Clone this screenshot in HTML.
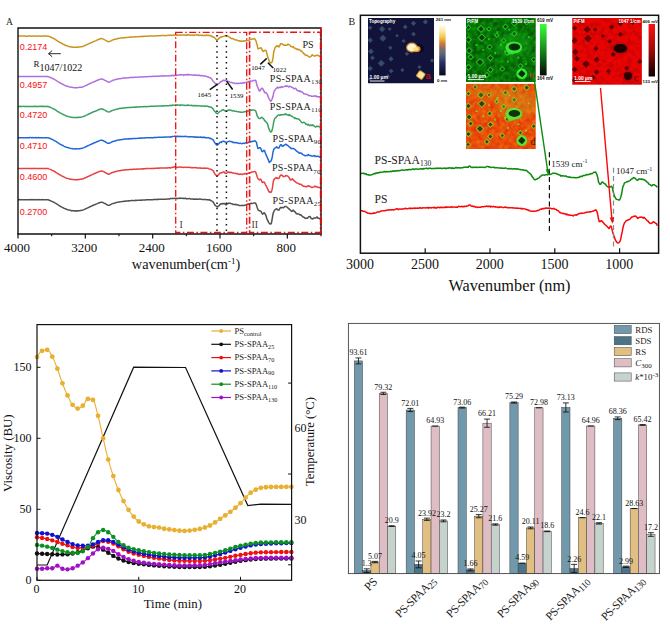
<!DOCTYPE html>
<html lang="en"><head><meta charset="utf-8"><title>Figure</title>
<style>html,body{margin:0;padding:0;background:#fff}svg{display:block}</style></head><body>
<svg width="670" height="624" viewBox="0 0 670 624">
<defs>
<filter id="blur" x="-5%" y="-5%" width="110%" height="110%"><feGaussianBlur stdDeviation="0.75"/></filter>
<filter id="blur3" x="-30%" y="-30%" width="160%" height="160%"><feGaussianBlur stdDeviation="3"/></filter>
<filter id="texb" x="0" y="0" width="100%" height="100%" color-interpolation-filters="sRGB"><feTurbulence type="fractalNoise" baseFrequency="0.22" numOctaves="2" seed="4"/><feColorMatrix type="matrix" values="0 0 0 0 0  1.5 0 0 0 -0.3  0 0 0 0 0  0 0 0 0 1"/></filter>
<filter id="texc" x="0" y="0" width="100%" height="100%" color-interpolation-filters="sRGB"><feTurbulence type="fractalNoise" baseFrequency="0.22" numOctaves="2" seed="7"/><feColorMatrix type="matrix" values="1.2 0 0 0 0.3  0 0 0 0 0  0 0 0 0 0  0 0 0 0 1"/></filter>
<filter id="texd" x="0" y="0" width="100%" height="100%" color-interpolation-filters="sRGB"><feTurbulence type="fractalNoise" baseFrequency="0.22" numOctaves="2" seed="9"/><feColorMatrix type="matrix" values="0.3 0 0 0 0.75  1.2 0 0 0 -0.28  0 0 0 0 0.03  0 0 0 0 1"/></filter>
<linearGradient id="cbA" x1="0" y1="0" x2="0" y2="1"><stop offset="0" stop-color="#fffbe8"/><stop offset="0.12" stop-color="#fbe9a0"/><stop offset="0.25" stop-color="#f2c040"/><stop offset="0.36" stop-color="#d07a38"/><stop offset="0.46" stop-color="#8a6a64"/><stop offset="0.56" stop-color="#5a6a7c"/><stop offset="0.75" stop-color="#283060"/><stop offset="1" stop-color="#08081e"/></linearGradient>
<linearGradient id="cbB" x1="0" y1="0" x2="0" y2="1"><stop offset="0" stop-color="#38ff38"/><stop offset="0.5" stop-color="#1a8a1a"/><stop offset="1" stop-color="#020a02"/></linearGradient>
<linearGradient id="cbC" x1="0" y1="0" x2="0" y2="1"><stop offset="0" stop-color="#ff1010"/><stop offset="0.5" stop-color="#a00808"/><stop offset="1" stop-color="#0a0000"/></linearGradient>
</defs>
<rect width="670" height="624" fill="#fff"/>
<g id="panelA">
<text x="6" y="25" font-family="Liberation Serif, serif" font-size="9.6" fill="#222">A</text>
<path d="M18.00,36.23 L18.75,36.13 L19.50,36.11 L20.25,35.97 L21.00,36.08 L21.75,36.07 L22.50,36.09 L23.25,36.05 L24.00,36.10 L24.75,36.07 L25.50,36.01 L26.25,36.16 L27.00,36.16 L27.75,36.22 L28.50,36.10 L29.25,36.07 L30.00,36.06 L30.75,35.99 L31.50,36.17 L32.25,36.02 L33.00,36.01 L33.75,36.09 L34.50,36.21 L35.25,36.12 L36.00,36.03 L36.75,36.05 L37.50,36.15 L38.25,36.09 L39.00,36.04 L39.75,36.08 L40.50,36.15 L41.25,36.24 L42.00,36.01 L42.75,36.05 L43.50,36.04 L44.25,35.93 L45.00,36.03 L45.75,36.03 L46.50,36.18 L47.25,36.10 L48.00,36.08 L48.75,36.42 L49.50,36.60 L50.25,36.81 L51.00,37.24 L51.75,37.61 L52.50,37.96 L53.25,38.38 L54.00,38.58 L54.75,39.14 L55.50,39.68 L56.25,40.15 L57.00,40.66 L57.75,41.16 L58.50,41.69 L59.25,41.98 L60.00,42.57 L60.75,42.79 L61.50,43.26 L62.25,43.55 L63.00,44.15 L63.75,44.55 L64.50,44.81 L65.25,45.29 L66.00,45.44 L66.75,45.79 L67.50,46.04 L68.25,46.16 L69.00,46.45 L69.75,46.72 L70.50,46.67 L71.25,46.96 L72.00,47.02 L72.75,47.27 L73.50,47.27 L74.25,47.33 L75.00,47.35 L75.75,47.31 L76.50,47.16 L77.25,47.31 L78.00,47.06 L78.75,47.10 L79.50,47.05 L80.25,46.86 L81.00,46.84 L81.75,46.79 L82.50,46.52 L83.25,46.21 L84.00,45.77 L84.75,45.57 L85.50,45.24 L86.25,44.88 L87.00,44.47 L87.75,44.20 L88.50,43.79 L89.25,43.50 L90.00,43.23 L90.75,42.79 L91.50,42.49 L92.25,42.33 L93.00,41.90 L93.75,41.41 L94.50,41.17 L95.25,40.90 L96.00,40.65 L96.75,40.27 L97.50,39.89 L98.25,39.52 L99.00,39.28 L99.75,38.96 L100.50,38.68 L101.25,38.59 L102.00,38.62 L102.75,38.92 L103.50,39.14 L104.25,39.58 L105.00,39.95 L105.75,40.38 L106.50,40.78 L107.25,41.39 L108.00,41.56 L108.75,41.73 L109.50,41.49 L110.25,41.10 L111.00,40.84 L111.75,40.43 L112.50,40.04 L113.25,39.81 L114.00,39.53 L114.75,39.31 L115.50,39.14 L116.25,39.10 L117.00,38.83 L117.75,38.56 L118.50,38.48 L119.25,38.26 L120.00,38.13 L120.75,38.10 L121.50,37.90 L122.25,37.73 L123.00,37.70 L123.75,37.69 L124.50,37.62 L125.25,37.63 L126.00,37.42 L126.75,37.46 L127.50,37.38 L128.25,37.28 L129.00,37.29 L129.75,37.21 L130.50,37.07 L131.25,37.15 L132.00,36.94 L132.75,36.99 L133.50,36.94 L134.25,36.93 L135.00,36.80 L135.75,36.81 L136.50,36.76 L137.25,36.80 L138.00,36.63 L138.75,36.65 L139.50,36.59 L140.25,36.47 L141.00,36.72 L141.75,36.48 L142.50,36.34 L143.25,36.51 L144.00,36.30 L144.75,36.36 L145.50,36.36 L146.25,36.22 L147.00,36.20 L147.75,36.16 L148.50,36.16 L149.25,36.02 L150.00,36.02 L150.75,36.06 L151.50,36.12 L152.25,36.06 L153.00,36.11 L153.75,36.00 L154.50,35.88 L155.25,35.88 L156.00,35.71 L156.75,35.76 L157.50,35.72 L158.25,35.78 L159.00,35.78 L159.75,35.67 L160.50,35.64 L161.25,35.54 L162.00,35.62 L162.75,35.62 L163.50,35.60 L164.25,35.49 L165.00,35.66 L165.75,35.57 L166.50,35.45 L167.25,35.39 L168.00,35.37 L168.75,35.37 L169.50,35.32 L170.25,35.37 L171.00,35.37 L171.75,35.42 L172.50,35.32 L173.25,35.04 L174.00,35.09 L174.75,34.93 L175.50,34.89 L176.25,35.34 L177.00,34.92 L177.75,35.36 L178.50,34.94 L179.25,35.05 L180.00,35.20 L180.75,35.00 L181.50,35.07 L182.25,34.96 L183.00,34.91 L183.75,34.97 L184.50,34.88 L185.25,35.29 L186.00,34.97 L186.75,35.31 L187.50,34.52 L188.25,35.00 L189.00,35.10 L189.75,34.95 L190.50,35.20 L191.25,35.12 L192.00,34.95 L192.75,35.08 L193.50,35.51 L194.25,35.05 L195.00,35.06 L195.75,34.93 L196.50,35.04 L197.25,34.79 L198.00,35.00 L198.75,35.49 L199.50,35.26 L200.25,35.20 L201.00,35.31 L201.75,35.47 L202.50,35.27 L203.25,35.57 L204.00,35.42 L204.75,35.30 L205.50,35.62 L206.25,34.93 L207.00,35.31 L207.75,35.51 L208.50,35.35 L209.25,35.55 L210.00,35.53 L210.75,35.60 L211.50,36.40 L212.25,36.35 L213.00,36.65 L213.75,37.36 L214.50,37.58 L215.25,38.57 L216.00,39.30 L216.75,40.05 L217.50,39.41 L218.25,39.22 L219.00,38.33 L219.75,37.41 L220.50,37.41 L221.25,36.76 L222.00,36.95 L222.75,36.53 L223.50,36.37 L224.25,36.09 L225.00,36.06 L225.75,35.43 L226.50,35.71 L227.25,35.73 L228.00,36.32 L228.75,36.80 L229.50,37.41 L230.25,37.50 L231.00,38.30 L231.75,38.69 L232.50,38.53 L233.25,38.85 L234.00,39.17 L234.75,39.62 L235.50,40.03 L236.25,39.79 L237.00,40.22 L237.75,40.44 L238.50,40.68 L239.25,40.78 L240.00,41.25 L240.75,40.99 L241.50,41.45 L242.25,41.32 L243.00,40.93 L243.75,40.87 L244.50,40.88 L245.25,41.18 L246.00,40.69 L246.75,40.48 L247.50,40.55 L248.25,40.36 L249.00,39.88 L249.75,40.00 L250.50,39.50 L251.25,39.37 L252.00,39.02 L252.75,39.05 L253.50,38.94 L254.25,38.50 L255.00,39.06 L255.75,40.32 L256.50,42.88 L257.25,45.34 L258.00,48.87 L258.75,48.70 L259.50,48.30 L260.25,48.06 L261.00,47.74 L261.75,48.71 L262.50,50.68 L263.25,51.48 L264.00,50.81 L264.75,50.48 L265.50,50.34 L266.25,50.90 L267.00,53.97 L267.75,57.14 L268.50,58.92 L269.25,61.06 L270.00,62.97 L270.75,62.83 L271.50,62.73 L272.25,61.67 L273.00,57.88 L273.75,51.84 L274.50,49.57 L275.25,47.37 L276.00,46.69 L276.75,45.67 L277.50,46.36 L278.25,45.94 L279.00,47.00 L279.75,45.60 L280.50,43.85 L281.25,43.70 L282.00,43.69 L282.75,44.42 L283.50,44.69 L284.25,45.30 L285.00,45.03 L285.75,45.22 L286.50,45.21 L287.25,44.87 L288.00,44.13 L288.75,44.57 L289.50,44.63 L290.25,45.65 L291.00,46.49 L291.75,46.84 L292.50,46.97 L293.25,46.61 L294.00,47.78 L294.75,47.88 L295.50,48.66 L296.25,48.70 L297.00,49.55 L297.75,49.12 L298.50,49.80 L299.25,49.52 L300.00,50.06 L300.75,51.01 L301.50,51.06 L302.25,51.83 L303.00,52.75 L303.75,53.78 L304.50,53.83 L305.25,55.09 L306.00,55.30 L306.75,55.32 L307.50,55.53 L308.25,56.48 L309.00,56.94 L309.75,57.01 L310.50,56.79 L311.25,56.15 L312.00,54.77 L312.75,55.17 L313.50,55.65 L314.25,56.09 L315.00,56.06 L315.75,55.45 L316.50,55.42 L317.25,55.26 L318.00,55.42 L318.75,55.59 L319.50,56.26 L320.25,56.30 L321.00,56.95" fill="none" stroke="#c8961e" stroke-width="1.5" stroke-linejoin="round"/>
<path d="M18.00,76.57 L18.75,76.52 L19.50,76.47 L20.25,76.59 L21.00,76.47 L21.75,76.45 L22.50,76.46 L23.25,76.39 L24.00,76.46 L24.75,76.63 L25.50,76.43 L26.25,76.50 L27.00,76.42 L27.75,76.46 L28.50,76.61 L29.25,76.56 L30.00,76.46 L30.75,76.50 L31.50,76.44 L32.25,76.44 L33.00,76.43 L33.75,76.44 L34.50,76.52 L35.25,76.54 L36.00,76.54 L36.75,76.49 L37.50,76.40 L38.25,76.50 L39.00,76.43 L39.75,76.56 L40.50,76.54 L41.25,76.55 L42.00,76.47 L42.75,76.37 L43.50,76.57 L44.25,76.59 L45.00,76.39 L45.75,76.51 L46.50,76.59 L47.25,76.43 L48.00,76.72 L48.75,76.75 L49.50,76.95 L50.25,77.44 L51.00,77.71 L51.75,78.01 L52.50,78.49 L53.25,78.64 L54.00,79.27 L54.75,79.50 L55.50,80.03 L56.25,80.46 L57.00,81.01 L57.75,81.55 L58.50,81.92 L59.25,82.52 L60.00,82.89 L60.75,83.27 L61.50,83.69 L62.25,84.02 L63.00,84.42 L63.75,84.92 L64.50,85.21 L65.25,85.65 L66.00,85.92 L66.75,86.10 L67.50,86.29 L68.25,86.59 L69.00,86.83 L69.75,86.98 L70.50,87.09 L71.25,87.37 L72.00,87.31 L72.75,87.46 L73.50,87.64 L74.25,87.84 L75.00,87.73 L75.75,87.62 L76.50,87.70 L77.25,87.66 L78.00,87.62 L78.75,87.46 L79.50,87.35 L80.25,87.33 L81.00,87.26 L81.75,87.22 L82.50,87.07 L83.25,86.62 L84.00,86.34 L84.75,86.04 L85.50,85.67 L86.25,85.35 L87.00,84.97 L87.75,84.59 L88.50,84.33 L89.25,83.90 L90.00,83.51 L90.75,83.14 L91.50,82.84 L92.25,82.50 L93.00,82.10 L93.75,81.95 L94.50,81.59 L95.25,81.23 L96.00,80.89 L96.75,80.54 L97.50,80.26 L98.25,80.10 L99.00,79.47 L99.75,79.35 L100.50,79.17 L101.25,79.02 L102.00,79.03 L102.75,79.32 L103.50,79.51 L104.25,79.99 L105.00,80.39 L105.75,80.67 L106.50,81.18 L107.25,81.70 L108.00,82.08 L108.75,82.19 L109.50,81.99 L110.25,81.58 L111.00,81.14 L111.75,80.82 L112.50,80.47 L113.25,80.12 L114.00,79.98 L114.75,79.78 L115.50,79.63 L116.25,79.29 L117.00,79.22 L117.75,78.92 L118.50,78.81 L119.25,78.69 L120.00,78.67 L120.75,78.68 L121.50,78.35 L122.25,78.28 L123.00,78.24 L123.75,77.99 L124.50,78.07 L125.25,77.85 L126.00,77.99 L126.75,77.91 L127.50,77.78 L128.25,77.63 L129.00,77.75 L129.75,77.60 L130.50,77.54 L131.25,77.52 L132.00,77.31 L132.75,77.41 L133.50,77.41 L134.25,77.32 L135.00,77.26 L135.75,77.14 L136.50,77.22 L137.25,77.14 L138.00,77.09 L138.75,77.01 L139.50,77.07 L140.25,77.05 L141.00,76.95 L141.75,76.95 L142.50,76.94 L143.25,76.92 L144.00,76.79 L144.75,76.72 L145.50,76.67 L146.25,76.67 L147.00,76.67 L147.75,76.67 L148.50,76.54 L149.25,76.55 L150.00,76.43 L150.75,76.57 L151.50,76.42 L152.25,76.44 L153.00,76.33 L153.75,76.33 L154.50,76.27 L155.25,76.41 L156.00,76.28 L156.75,76.22 L157.50,76.13 L158.25,76.12 L159.00,76.18 L159.75,76.23 L160.50,75.98 L161.25,75.99 L162.00,76.01 L162.75,75.95 L163.50,75.85 L164.25,75.94 L165.00,75.97 L165.75,75.77 L166.50,75.87 L167.25,75.90 L168.00,75.86 L168.75,75.73 L169.50,75.89 L170.25,75.79 L171.00,75.50 L171.75,75.77 L172.50,75.33 L173.25,75.63 L174.00,75.18 L174.75,75.48 L175.50,75.16 L176.25,75.40 L177.00,75.26 L177.75,75.14 L178.50,75.00 L179.25,75.12 L180.00,74.55 L180.75,74.90 L181.50,74.85 L182.25,74.84 L183.00,74.87 L183.75,75.37 L184.50,74.72 L185.25,74.85 L186.00,74.75 L186.75,75.02 L187.50,74.40 L188.25,75.10 L189.00,74.70 L189.75,74.46 L190.50,74.71 L191.25,74.91 L192.00,75.02 L192.75,75.02 L193.50,75.22 L194.25,75.11 L195.00,75.15 L195.75,74.83 L196.50,75.35 L197.25,75.50 L198.00,75.30 L198.75,75.10 L199.50,75.26 L200.25,75.87 L201.00,75.54 L201.75,75.61 L202.50,75.67 L203.25,76.04 L204.00,75.91 L204.75,75.97 L205.50,75.98 L206.25,76.36 L207.00,76.73 L207.75,76.74 L208.50,77.18 L209.25,77.36 L210.00,77.71 L210.75,78.13 L211.50,78.79 L212.25,79.93 L213.00,80.89 L213.75,81.70 L214.50,82.64 L215.25,83.45 L216.00,84.32 L216.75,84.70 L217.50,84.65 L218.25,83.77 L219.00,83.35 L219.75,82.80 L220.50,81.79 L221.25,81.79 L222.00,81.06 L222.75,80.57 L223.50,80.09 L224.25,80.64 L225.00,80.44 L225.75,80.75 L226.50,81.17 L227.25,81.09 L228.00,81.31 L228.75,81.50 L229.50,81.91 L230.25,82.24 L231.00,82.40 L231.75,82.59 L232.50,82.65 L233.25,82.94 L234.00,82.98 L234.75,83.62 L235.50,83.43 L236.25,83.12 L237.00,83.31 L237.75,83.77 L238.50,83.20 L239.25,83.31 L240.00,83.39 L240.75,83.04 L241.50,83.34 L242.25,83.35 L243.00,82.79 L243.75,83.04 L244.50,82.56 L245.25,82.40 L246.00,82.45 L246.75,82.27 L247.50,81.92 L248.25,81.97 L249.00,81.35 L249.75,81.27 L250.50,81.05 L251.25,81.23 L252.00,81.08 L252.75,80.89 L253.50,80.39 L254.25,80.52 L255.00,80.50 L255.75,80.18 L256.50,83.48 L257.25,86.25 L258.00,87.68 L258.75,89.71 L259.50,91.19 L260.25,90.39 L261.00,89.14 L261.75,88.37 L262.50,88.29 L263.25,89.71 L264.00,91.17 L264.75,92.74 L265.50,92.54 L266.25,92.89 L267.00,93.66 L267.75,95.62 L268.50,97.48 L269.25,98.95 L270.00,100.23 L270.75,101.37 L271.50,100.29 L272.25,98.72 L273.00,96.29 L273.75,92.45 L274.50,90.54 L275.25,89.65 L276.00,88.70 L276.75,87.93 L277.50,87.16 L278.25,88.07 L279.00,87.47 L279.75,87.22 L280.50,87.62 L281.25,86.66 L282.00,87.27 L282.75,86.97 L283.50,86.88 L284.25,86.62 L285.00,86.32 L285.75,85.86 L286.50,86.50 L287.25,85.93 L288.00,86.21 L288.75,86.95 L289.50,86.22 L290.25,86.42 L291.00,86.81 L291.75,87.23 L292.50,87.48 L293.25,88.11 L294.00,88.72 L294.75,88.67 L295.50,88.17 L296.25,89.08 L297.00,90.27 L297.75,90.65 L298.50,90.84 L299.25,91.40 L300.00,90.74 L300.75,91.76 L301.50,91.72 L302.25,92.26 L303.00,92.71 L303.75,93.73 L304.50,94.11 L305.25,93.91 L306.00,94.13 L306.75,94.40 L307.50,94.44 L308.25,95.40 L309.00,95.53 L309.75,95.85 L310.50,95.72 L311.25,96.14 L312.00,96.29 L312.75,96.19 L313.50,96.22 L314.25,96.03 L315.00,95.66 L315.75,96.41 L316.50,96.07 L317.25,96.89 L318.00,96.71 L318.75,97.05 L319.50,96.71 L320.25,96.81 L321.00,96.55" fill="none" stroke="#b070dc" stroke-width="1.5" stroke-linejoin="round"/>
<path d="M18.00,106.49 L18.75,106.50 L19.50,106.38 L20.25,106.37 L21.00,106.43 L21.75,106.41 L22.50,106.44 L23.25,106.35 L24.00,106.23 L24.75,106.43 L25.50,106.46 L26.25,106.45 L27.00,106.52 L27.75,106.46 L28.50,106.37 L29.25,106.47 L30.00,106.39 L30.75,106.49 L31.50,106.42 L32.25,106.43 L33.00,106.42 L33.75,106.40 L34.50,106.29 L35.25,106.40 L36.00,106.24 L36.75,106.44 L37.50,106.47 L38.25,106.55 L39.00,106.43 L39.75,106.35 L40.50,106.29 L41.25,106.54 L42.00,106.30 L42.75,106.46 L43.50,106.23 L44.25,106.40 L45.00,106.45 L45.75,106.42 L46.50,106.40 L47.25,106.35 L48.00,106.43 L48.75,106.75 L49.50,106.96 L50.25,107.23 L51.00,107.60 L51.75,107.89 L52.50,108.40 L53.25,108.77 L54.00,108.98 L54.75,109.46 L55.50,109.98 L56.25,110.34 L57.00,111.03 L57.75,111.49 L58.50,111.86 L59.25,112.43 L60.00,112.93 L60.75,113.13 L61.50,113.65 L62.25,113.98 L63.00,114.36 L63.75,114.81 L64.50,115.09 L65.25,115.37 L66.00,115.69 L66.75,116.08 L67.50,116.38 L68.25,116.54 L69.00,116.70 L69.75,116.88 L70.50,117.14 L71.25,117.24 L72.00,117.28 L72.75,117.43 L73.50,117.62 L74.25,117.54 L75.00,117.57 L75.75,117.59 L76.50,117.48 L77.25,117.58 L78.00,117.30 L78.75,117.49 L79.50,117.28 L80.25,117.13 L81.00,117.15 L81.75,116.88 L82.50,116.86 L83.25,116.63 L84.00,116.23 L84.75,115.92 L85.50,115.65 L86.25,115.16 L87.00,114.84 L87.75,114.50 L88.50,114.24 L89.25,113.77 L90.00,113.49 L90.75,113.23 L91.50,112.63 L92.25,112.46 L93.00,112.00 L93.75,111.67 L94.50,111.62 L95.25,111.18 L96.00,110.96 L96.75,110.54 L97.50,110.26 L98.25,109.84 L99.00,109.49 L99.75,109.23 L100.50,109.03 L101.25,109.02 L102.00,108.93 L102.75,109.20 L103.50,109.48 L104.25,109.86 L105.00,110.10 L105.75,110.72 L106.50,111.10 L107.25,111.60 L108.00,111.89 L108.75,112.07 L109.50,111.88 L110.25,111.53 L111.00,111.14 L111.75,110.73 L112.50,110.40 L113.25,110.13 L114.00,109.97 L114.75,109.78 L115.50,109.50 L116.25,109.17 L117.00,109.20 L117.75,109.06 L118.50,108.71 L119.25,108.56 L120.00,108.31 L120.75,108.40 L121.50,108.16 L122.25,108.28 L123.00,107.89 L123.75,107.99 L124.50,107.96 L125.25,107.81 L126.00,107.72 L126.75,107.73 L127.50,107.61 L128.25,107.56 L129.00,107.53 L129.75,107.44 L130.50,107.41 L131.25,107.43 L132.00,107.30 L132.75,107.30 L133.50,107.19 L134.25,107.26 L135.00,107.06 L135.75,107.18 L136.50,106.85 L137.25,106.96 L138.00,106.87 L138.75,107.02 L139.50,106.92 L140.25,106.77 L141.00,106.78 L141.75,106.88 L142.50,106.74 L143.25,106.75 L144.00,106.56 L144.75,106.53 L145.50,106.64 L146.25,106.73 L147.00,106.49 L147.75,106.54 L148.50,106.40 L149.25,106.53 L150.00,106.37 L150.75,106.34 L151.50,106.21 L152.25,106.28 L153.00,106.29 L153.75,106.35 L154.50,106.13 L155.25,106.26 L156.00,106.13 L156.75,106.10 L157.50,106.03 L158.25,105.94 L159.00,105.95 L159.75,106.13 L160.50,105.90 L161.25,105.93 L162.00,106.02 L162.75,105.76 L163.50,105.92 L164.25,105.83 L165.00,105.85 L165.75,105.87 L166.50,105.77 L167.25,105.73 L168.00,105.76 L168.75,105.72 L169.50,105.58 L170.25,105.54 L171.00,105.24 L171.75,105.60 L172.50,105.02 L173.25,105.15 L174.00,105.34 L174.75,105.14 L175.50,104.94 L176.25,104.87 L177.00,104.89 L177.75,105.18 L178.50,105.10 L179.25,105.05 L180.00,105.54 L180.75,104.95 L181.50,105.04 L182.25,105.08 L183.00,105.22 L183.75,105.27 L184.50,105.19 L185.25,105.41 L186.00,105.41 L186.75,105.29 L187.50,104.94 L188.25,105.56 L189.00,105.29 L189.75,105.38 L190.50,105.50 L191.25,105.34 L192.00,105.46 L192.75,105.65 L193.50,105.61 L194.25,105.76 L195.00,105.58 L195.75,105.72 L196.50,105.60 L197.25,105.76 L198.00,105.89 L198.75,105.83 L199.50,105.64 L200.25,105.89 L201.00,105.99 L201.75,106.20 L202.50,106.03 L203.25,106.00 L204.00,105.91 L204.75,106.53 L205.50,106.06 L206.25,106.09 L207.00,106.33 L207.75,106.11 L208.50,106.72 L209.25,106.71 L210.00,106.98 L210.75,107.00 L211.50,107.43 L212.25,108.09 L213.00,108.71 L213.75,110.18 L214.50,111.16 L215.25,111.69 L216.00,112.80 L216.75,113.35 L217.50,113.76 L218.25,113.03 L219.00,112.30 L219.75,111.37 L220.50,111.10 L221.25,110.90 L222.00,110.22 L222.75,109.74 L223.50,109.81 L224.25,110.43 L225.00,110.70 L225.75,111.07 L226.50,110.93 L227.25,110.82 L228.00,110.18 L228.75,109.97 L229.50,109.96 L230.25,110.15 L231.00,110.28 L231.75,110.63 L232.50,110.96 L233.25,110.57 L234.00,110.84 L234.75,111.22 L235.50,111.38 L236.25,111.23 L237.00,111.54 L237.75,111.71 L238.50,111.83 L239.25,111.94 L240.00,112.09 L240.75,112.32 L241.50,112.32 L242.25,112.28 L243.00,112.15 L243.75,111.87 L244.50,111.77 L245.25,111.83 L246.00,111.56 L246.75,111.51 L247.50,111.26 L248.25,111.04 L249.00,110.88 L249.75,110.27 L250.50,110.29 L251.25,110.02 L252.00,110.16 L252.75,109.88 L253.50,110.09 L254.25,110.08 L255.00,110.42 L255.75,111.05 L256.50,113.26 L257.25,116.02 L258.00,117.20 L258.75,118.37 L259.50,118.60 L260.25,118.50 L261.00,117.80 L261.75,117.23 L262.50,117.77 L263.25,118.68 L264.00,119.35 L264.75,120.89 L265.50,121.04 L266.25,122.23 L267.00,122.96 L267.75,124.44 L268.50,127.82 L269.25,129.48 L270.00,131.15 L270.75,131.96 L271.50,131.64 L272.25,129.61 L273.00,126.43 L273.75,121.69 L274.50,119.12 L275.25,117.90 L276.00,117.66 L276.75,116.31 L277.50,115.82 L278.25,115.04 L279.00,114.93 L279.75,115.40 L280.50,114.76 L281.25,115.06 L282.00,114.78 L282.75,114.81 L283.50,114.46 L284.25,114.32 L285.00,114.70 L285.75,113.82 L286.50,114.63 L287.25,114.89 L288.00,114.78 L288.75,115.48 L289.50,114.50 L290.25,115.63 L291.00,115.76 L291.75,116.29 L292.50,116.65 L293.25,117.11 L294.00,117.38 L294.75,118.53 L295.50,117.92 L296.25,118.72 L297.00,118.72 L297.75,118.71 L298.50,119.15 L299.25,119.60 L300.00,120.41 L300.75,121.41 L301.50,122.40 L302.25,122.83 L303.00,122.61 L303.75,122.19 L304.50,122.73 L305.25,123.18 L306.00,124.30 L306.75,124.15 L307.50,125.08 L308.25,124.21 L309.00,125.21 L309.75,125.73 L310.50,125.02 L311.25,124.93 L312.00,125.68 L312.75,124.85 L313.50,125.47 L314.25,126.03 L315.00,126.79 L315.75,127.02 L316.50,126.26 L317.25,126.47 L318.00,126.18 L318.75,126.62 L319.50,126.66 L320.25,127.19 L321.00,126.93" fill="none" stroke="#3aa060" stroke-width="1.5" stroke-linejoin="round"/>
<path d="M18.00,137.66 L18.75,137.77 L19.50,137.83 L20.25,137.71 L21.00,137.77 L21.75,137.71 L22.50,137.73 L23.25,137.67 L24.00,137.68 L24.75,137.66 L25.50,137.71 L26.25,137.78 L27.00,137.71 L27.75,137.75 L28.50,137.65 L29.25,137.75 L30.00,137.47 L30.75,137.60 L31.50,137.68 L32.25,137.57 L33.00,137.74 L33.75,137.71 L34.50,137.63 L35.25,137.71 L36.00,137.59 L36.75,137.63 L37.50,137.67 L38.25,137.58 L39.00,137.78 L39.75,137.65 L40.50,137.77 L41.25,137.69 L42.00,137.72 L42.75,137.63 L43.50,137.68 L44.25,137.67 L45.00,137.72 L45.75,137.80 L46.50,137.66 L47.25,137.69 L48.00,137.82 L48.75,138.04 L49.50,138.22 L50.25,138.51 L51.00,138.84 L51.75,139.25 L52.50,139.64 L53.25,139.93 L54.00,140.32 L54.75,140.81 L55.50,141.20 L56.25,141.64 L57.00,142.23 L57.75,142.74 L58.50,143.22 L59.25,143.71 L60.00,144.08 L60.75,144.54 L61.50,144.93 L62.25,145.30 L63.00,145.55 L63.75,146.05 L64.50,146.45 L65.25,146.80 L66.00,147.07 L66.75,147.38 L67.50,147.50 L68.25,147.73 L69.00,147.80 L69.75,148.17 L70.50,148.46 L71.25,148.62 L72.00,148.55 L72.75,148.79 L73.50,148.92 L74.25,148.86 L75.00,148.76 L75.75,148.99 L76.50,148.83 L77.25,148.79 L78.00,148.88 L78.75,148.72 L79.50,148.67 L80.25,148.64 L81.00,148.42 L81.75,148.24 L82.50,148.18 L83.25,147.87 L84.00,147.63 L84.75,147.27 L85.50,146.83 L86.25,146.52 L87.00,146.12 L87.75,145.76 L88.50,145.43 L89.25,145.14 L90.00,144.80 L90.75,144.36 L91.50,144.16 L92.25,143.67 L93.00,143.60 L93.75,143.05 L94.50,142.78 L95.25,142.56 L96.00,142.15 L96.75,141.77 L97.50,141.42 L98.25,141.19 L99.00,140.86 L99.75,140.60 L100.50,140.34 L101.25,140.18 L102.00,140.29 L102.75,140.58 L103.50,140.74 L104.25,141.41 L105.00,141.46 L105.75,142.04 L106.50,142.58 L107.25,142.96 L108.00,143.24 L108.75,143.35 L109.50,143.24 L110.25,142.64 L111.00,142.46 L111.75,141.98 L112.50,141.60 L113.25,141.41 L114.00,141.19 L114.75,141.00 L115.50,140.72 L116.25,140.64 L117.00,140.23 L117.75,140.13 L118.50,139.95 L119.25,139.90 L120.00,139.72 L120.75,139.68 L121.50,139.48 L122.25,139.54 L123.00,139.42 L123.75,139.25 L124.50,139.09 L125.25,139.05 L126.00,138.96 L126.75,139.10 L127.50,139.00 L128.25,138.80 L129.00,138.97 L129.75,138.76 L130.50,138.56 L131.25,138.76 L132.00,138.72 L132.75,138.58 L133.50,138.47 L134.25,138.59 L135.00,138.42 L135.75,138.41 L136.50,138.40 L137.25,138.35 L138.00,138.25 L138.75,138.17 L139.50,138.26 L140.25,138.00 L141.00,138.15 L141.75,138.10 L142.50,138.08 L143.25,137.98 L144.00,137.99 L144.75,137.99 L145.50,137.83 L146.25,137.87 L147.00,137.86 L147.75,137.71 L148.50,137.70 L149.25,137.85 L150.00,137.78 L150.75,137.62 L151.50,137.70 L152.25,137.64 L153.00,137.68 L153.75,137.63 L154.50,137.35 L155.25,137.47 L156.00,137.56 L156.75,137.55 L157.50,137.35 L158.25,137.28 L159.00,137.36 L159.75,137.27 L160.50,137.29 L161.25,137.18 L162.00,137.30 L162.75,137.26 L163.50,137.23 L164.25,137.09 L165.00,137.02 L165.75,137.02 L166.50,137.12 L167.25,136.92 L168.00,137.06 L168.75,137.10 L169.50,136.89 L170.25,136.85 L171.00,136.97 L171.75,136.84 L172.50,136.43 L173.25,136.39 L174.00,136.36 L174.75,136.25 L175.50,136.41 L176.25,136.37 L177.00,136.55 L177.75,136.02 L178.50,136.56 L179.25,136.51 L180.00,136.36 L180.75,136.48 L181.50,136.61 L182.25,136.51 L183.00,136.44 L183.75,136.57 L184.50,136.43 L185.25,136.35 L186.00,136.46 L186.75,136.52 L187.50,136.73 L188.25,136.87 L189.00,136.81 L189.75,137.07 L190.50,136.82 L191.25,136.76 L192.00,136.78 L192.75,136.79 L193.50,136.93 L194.25,137.27 L195.00,136.78 L195.75,137.18 L196.50,137.11 L197.25,137.29 L198.00,137.08 L198.75,137.32 L199.50,137.13 L200.25,137.36 L201.00,136.93 L201.75,137.41 L202.50,137.49 L203.25,137.11 L204.00,137.60 L204.75,137.29 L205.50,137.73 L206.25,137.61 L207.00,137.81 L207.75,137.83 L208.50,137.63 L209.25,138.28 L210.00,138.44 L210.75,138.32 L211.50,138.95 L212.25,139.34 L213.00,139.76 L213.75,140.81 L214.50,142.52 L215.25,143.29 L216.00,144.27 L216.75,145.08 L217.50,144.97 L218.25,144.22 L219.00,143.71 L219.75,142.50 L220.50,142.15 L221.25,142.49 L222.00,141.51 L222.75,141.49 L223.50,141.13 L224.25,141.45 L225.00,142.03 L225.75,141.97 L226.50,142.31 L227.25,142.07 L228.00,141.60 L228.75,141.38 L229.50,141.21 L230.25,141.57 L231.00,141.58 L231.75,141.71 L232.50,142.05 L233.25,142.66 L234.00,142.26 L234.75,142.74 L235.50,142.73 L236.25,142.56 L237.00,142.81 L237.75,143.08 L238.50,143.15 L239.25,143.39 L240.00,143.25 L240.75,143.30 L241.50,143.69 L242.25,143.49 L243.00,143.27 L243.75,143.32 L244.50,143.51 L245.25,142.92 L246.00,142.59 L246.75,142.86 L247.50,142.88 L248.25,142.60 L249.00,141.94 L249.75,141.61 L250.50,142.00 L251.25,141.54 L252.00,141.49 L252.75,141.20 L253.50,141.36 L254.25,140.91 L255.00,140.76 L255.75,141.48 L256.50,142.39 L257.25,146.10 L258.00,148.60 L258.75,148.07 L259.50,147.63 L260.25,147.64 L261.00,149.07 L261.75,151.18 L262.50,151.77 L263.25,151.06 L264.00,150.33 L264.75,151.09 L265.50,153.56 L266.25,155.11 L267.00,156.93 L267.75,158.66 L268.50,160.16 L269.25,162.43 L270.00,161.61 L270.75,161.29 L271.50,159.98 L272.25,156.98 L273.00,152.01 L273.75,149.57 L274.50,148.56 L275.25,147.63 L276.00,147.59 L276.75,146.70 L277.50,147.84 L278.25,148.09 L279.00,147.95 L279.75,146.12 L280.50,144.85 L281.25,144.72 L282.00,145.96 L282.75,146.33 L283.50,145.64 L284.25,145.07 L285.00,144.59 L285.75,144.27 L286.50,144.62 L287.25,145.36 L288.00,145.57 L288.75,146.63 L289.50,146.90 L290.25,147.52 L291.00,148.69 L291.75,148.48 L292.50,148.38 L293.25,148.39 L294.00,149.02 L294.75,149.18 L295.50,149.88 L296.25,150.71 L297.00,151.64 L297.75,151.81 L298.50,152.46 L299.25,153.26 L300.00,152.98 L300.75,153.02 L301.50,153.32 L302.25,154.11 L303.00,154.59 L303.75,155.02 L304.50,155.47 L305.25,155.67 L306.00,155.56 L306.75,155.57 L307.50,155.61 L308.25,154.47 L309.00,155.06 L309.75,155.47 L310.50,155.38 L311.25,156.10 L312.00,156.12 L312.75,156.22 L313.50,155.80 L314.25,155.54 L315.00,156.38 L315.75,156.11 L316.50,156.61 L317.25,156.35 L318.00,156.22 L318.75,156.61 L319.50,157.11 L320.25,157.01 L321.00,157.27" fill="none" stroke="#2068d8" stroke-width="1.5" stroke-linejoin="round"/>
<path d="M18.00,168.37 L18.75,168.62 L19.50,168.42 L20.25,168.51 L21.00,168.61 L21.75,168.47 L22.50,168.48 L23.25,168.51 L24.00,168.47 L24.75,168.51 L25.50,168.47 L26.25,168.58 L27.00,168.53 L27.75,168.41 L28.50,168.40 L29.25,168.45 L30.00,168.45 L30.75,168.44 L31.50,168.56 L32.25,168.45 L33.00,168.47 L33.75,168.51 L34.50,168.36 L35.25,168.53 L36.00,168.54 L36.75,168.60 L37.50,168.43 L38.25,168.47 L39.00,168.51 L39.75,168.47 L40.50,168.39 L41.25,168.56 L42.00,168.48 L42.75,168.52 L43.50,168.42 L44.25,168.57 L45.00,168.47 L45.75,168.45 L46.50,168.56 L47.25,168.59 L48.00,168.53 L48.75,168.85 L49.50,169.14 L50.25,169.36 L51.00,169.58 L51.75,170.09 L52.50,170.50 L53.25,170.70 L54.00,171.26 L54.75,171.54 L55.50,172.00 L56.25,172.57 L57.00,173.00 L57.75,173.57 L58.50,173.98 L59.25,174.49 L60.00,174.91 L60.75,175.34 L61.50,175.75 L62.25,176.13 L63.00,176.46 L63.75,176.92 L64.50,177.21 L65.25,177.65 L66.00,177.93 L66.75,178.17 L67.50,178.38 L68.25,178.64 L69.00,178.91 L69.75,179.00 L70.50,179.22 L71.25,179.29 L72.00,179.41 L72.75,179.50 L73.50,179.49 L74.25,179.71 L75.00,179.70 L75.75,179.68 L76.50,179.72 L77.25,179.54 L78.00,179.68 L78.75,179.38 L79.50,179.43 L80.25,179.23 L81.00,179.21 L81.75,179.19 L82.50,178.81 L83.25,178.69 L84.00,178.38 L84.75,178.06 L85.50,177.70 L86.25,177.37 L87.00,176.97 L87.75,176.60 L88.50,176.29 L89.25,175.96 L90.00,175.57 L90.75,175.16 L91.50,174.97 L92.25,174.55 L93.00,174.36 L93.75,173.86 L94.50,173.49 L95.25,173.34 L96.00,172.90 L96.75,172.55 L97.50,172.41 L98.25,171.87 L99.00,171.73 L99.75,171.27 L100.50,171.15 L101.25,171.02 L102.00,170.92 L102.75,171.27 L103.50,171.56 L104.25,171.96 L105.00,172.33 L105.75,172.85 L106.50,173.22 L107.25,173.69 L108.00,174.16 L108.75,174.15 L109.50,174.00 L110.25,173.52 L111.00,173.12 L111.75,172.76 L112.50,172.43 L113.25,172.23 L114.00,172.17 L114.75,171.67 L115.50,171.53 L116.25,171.40 L117.00,171.19 L117.75,171.08 L118.50,170.82 L119.25,170.63 L120.00,170.71 L120.75,170.47 L121.50,170.25 L122.25,170.22 L123.00,170.16 L123.75,169.98 L124.50,170.07 L125.25,169.95 L126.00,169.84 L126.75,169.76 L127.50,169.86 L128.25,169.68 L129.00,169.57 L129.75,169.43 L130.50,169.45 L131.25,169.52 L132.00,169.53 L132.75,169.30 L133.50,169.19 L134.25,169.30 L135.00,169.25 L135.75,169.27 L136.50,169.12 L137.25,169.13 L138.00,168.95 L138.75,168.95 L139.50,168.96 L140.25,168.93 L141.00,168.96 L141.75,168.97 L142.50,168.74 L143.25,168.93 L144.00,168.72 L144.75,168.70 L145.50,168.78 L146.25,168.49 L147.00,168.53 L147.75,168.54 L148.50,168.57 L149.25,168.61 L150.00,168.58 L150.75,168.41 L151.50,168.49 L152.25,168.38 L153.00,168.49 L153.75,168.33 L154.50,168.39 L155.25,168.21 L156.00,168.31 L156.75,168.13 L157.50,168.20 L158.25,168.05 L159.00,168.13 L159.75,168.05 L160.50,168.02 L161.25,168.08 L162.00,168.10 L162.75,168.02 L163.50,168.01 L164.25,168.02 L165.00,168.03 L165.75,167.99 L166.50,167.91 L167.25,167.99 L168.00,167.78 L168.75,167.83 L169.50,167.65 L170.25,168.11 L171.00,167.54 L171.75,167.50 L172.50,167.59 L173.25,167.19 L174.00,166.98 L174.75,166.76 L175.50,167.05 L176.25,167.47 L177.00,167.14 L177.75,167.44 L178.50,167.29 L179.25,167.08 L180.00,166.92 L180.75,167.16 L181.50,167.34 L182.25,167.21 L183.00,167.31 L183.75,167.42 L184.50,167.28 L185.25,167.12 L186.00,167.35 L186.75,167.55 L187.50,167.33 L188.25,167.33 L189.00,167.37 L189.75,167.55 L190.50,167.61 L191.25,167.66 L192.00,167.47 L192.75,167.74 L193.50,167.66 L194.25,167.63 L195.00,167.50 L195.75,167.66 L196.50,167.78 L197.25,167.95 L198.00,168.02 L198.75,167.98 L199.50,168.04 L200.25,167.83 L201.00,168.21 L201.75,168.25 L202.50,168.26 L203.25,168.09 L204.00,168.21 L204.75,168.19 L205.50,168.10 L206.25,168.33 L207.00,168.18 L207.75,168.22 L208.50,168.73 L209.25,168.88 L210.00,169.15 L210.75,169.20 L211.50,169.63 L212.25,170.14 L213.00,170.59 L213.75,171.41 L214.50,173.47 L215.25,174.36 L216.00,175.11 L216.75,175.53 L217.50,175.52 L218.25,175.17 L219.00,174.36 L219.75,173.28 L220.50,173.01 L221.25,172.85 L222.00,172.71 L222.75,172.32 L223.50,172.03 L224.25,172.03 L225.00,173.14 L225.75,173.25 L226.50,173.35 L227.25,172.74 L228.00,171.99 L228.75,172.49 L229.50,172.29 L230.25,172.51 L231.00,172.31 L231.75,172.63 L232.50,173.09 L233.25,172.97 L234.00,173.08 L234.75,173.14 L235.50,173.23 L236.25,173.77 L237.00,173.75 L237.75,173.57 L238.50,174.29 L239.25,174.36 L240.00,174.42 L240.75,173.94 L241.50,174.32 L242.25,174.51 L243.00,174.02 L243.75,173.96 L244.50,173.93 L245.25,173.45 L246.00,173.69 L246.75,173.66 L247.50,173.44 L248.25,173.43 L249.00,172.99 L249.75,172.76 L250.50,172.53 L251.25,172.24 L252.00,171.99 L252.75,171.89 L253.50,171.83 L254.25,171.59 L255.00,171.62 L255.75,172.25 L256.50,174.43 L257.25,177.02 L258.00,178.75 L258.75,179.46 L259.50,179.92 L260.25,179.08 L261.00,179.59 L261.75,181.51 L262.50,182.58 L263.25,182.16 L264.00,181.99 L264.75,182.92 L265.50,184.84 L266.25,186.12 L267.00,187.47 L267.75,189.17 L268.50,190.91 L269.25,192.19 L270.00,191.81 L270.75,192.37 L271.50,191.63 L272.25,188.84 L273.00,183.25 L273.75,180.00 L274.50,178.77 L275.25,178.31 L276.00,177.46 L276.75,178.38 L277.50,178.01 L278.25,178.59 L279.00,178.24 L279.75,176.66 L280.50,175.39 L281.25,174.99 L282.00,175.22 L282.75,176.14 L283.50,176.70 L284.25,176.42 L285.00,176.27 L285.75,175.56 L286.50,175.65 L287.25,176.09 L288.00,176.16 L288.75,177.12 L289.50,178.41 L290.25,179.97 L291.00,179.51 L291.75,179.70 L292.50,178.88 L293.25,179.77 L294.00,180.69 L294.75,181.34 L295.50,181.73 L296.25,182.61 L297.00,183.01 L297.75,183.13 L298.50,183.50 L299.25,184.17 L300.00,184.15 L300.75,184.25 L301.50,184.65 L302.25,185.55 L303.00,185.79 L303.75,186.28 L304.50,186.13 L305.25,186.77 L306.00,186.58 L306.75,186.73 L307.50,186.26 L308.25,185.66 L309.00,186.27 L309.75,186.23 L310.50,186.46 L311.25,187.40 L312.00,187.40 L312.75,187.26 L313.50,186.93 L314.25,186.80 L315.00,186.03 L315.75,186.64 L316.50,186.78 L317.25,187.05 L318.00,187.34 L318.75,187.52 L319.50,187.48 L320.25,187.90 L321.00,188.03" fill="none" stroke="#e84040" stroke-width="1.5" stroke-linejoin="round"/>
<path d="M18.00,199.71 L18.75,199.68 L19.50,199.55 L20.25,199.74 L21.00,199.81 L21.75,199.78 L22.50,199.70 L23.25,199.72 L24.00,199.73 L24.75,199.81 L25.50,199.78 L26.25,199.67 L27.00,199.69 L27.75,199.68 L28.50,199.66 L29.25,199.65 L30.00,199.69 L30.75,199.52 L31.50,199.72 L32.25,199.66 L33.00,199.61 L33.75,199.68 L34.50,199.64 L35.25,199.78 L36.00,199.62 L36.75,199.70 L37.50,199.72 L38.25,199.63 L39.00,199.61 L39.75,199.72 L40.50,199.67 L41.25,199.63 L42.00,199.59 L42.75,199.74 L43.50,199.80 L44.25,199.66 L45.00,199.73 L45.75,199.77 L46.50,199.77 L47.25,199.66 L48.00,199.83 L48.75,200.02 L49.50,200.40 L50.25,200.55 L51.00,200.96 L51.75,201.31 L52.50,201.67 L53.25,201.91 L54.00,202.36 L54.75,202.86 L55.50,203.18 L56.25,203.70 L57.00,204.13 L57.75,204.70 L58.50,205.20 L59.25,205.71 L60.00,206.08 L60.75,206.49 L61.50,206.87 L62.25,207.31 L63.00,207.69 L63.75,208.21 L64.50,208.38 L65.25,208.82 L66.00,209.05 L66.75,209.35 L67.50,209.71 L68.25,209.87 L69.00,210.05 L69.75,210.09 L70.50,210.53 L71.25,210.64 L72.00,210.58 L72.75,210.65 L73.50,210.78 L74.25,210.90 L75.00,210.84 L75.75,210.91 L76.50,210.81 L77.25,211.01 L78.00,210.74 L78.75,210.66 L79.50,210.75 L80.25,210.54 L81.00,210.43 L81.75,210.31 L82.50,210.16 L83.25,209.84 L84.00,209.59 L84.75,209.21 L85.50,208.79 L86.25,208.49 L87.00,208.15 L87.75,207.88 L88.50,207.45 L89.25,207.09 L90.00,206.79 L90.75,206.49 L91.50,205.96 L92.25,205.75 L93.00,205.29 L93.75,204.98 L94.50,204.73 L95.25,204.45 L96.00,204.16 L96.75,203.87 L97.50,203.62 L98.25,203.20 L99.00,202.86 L99.75,202.52 L100.50,202.46 L101.25,202.30 L102.00,202.21 L102.75,202.43 L103.50,202.85 L104.25,203.22 L105.00,203.47 L105.75,204.02 L106.50,204.36 L107.25,204.89 L108.00,205.28 L108.75,205.26 L109.50,205.15 L110.25,204.83 L111.00,204.41 L111.75,203.88 L112.50,203.62 L113.25,203.41 L114.00,203.19 L114.75,203.02 L115.50,202.82 L116.25,202.54 L117.00,202.36 L117.75,202.32 L118.50,202.11 L119.25,201.90 L120.00,201.75 L120.75,201.72 L121.50,201.62 L122.25,201.45 L123.00,201.40 L123.75,201.29 L124.50,201.21 L125.25,201.28 L126.00,200.99 L126.75,201.07 L127.50,200.88 L128.25,200.84 L129.00,200.90 L129.75,200.69 L130.50,200.67 L131.25,200.60 L132.00,200.59 L132.75,200.61 L133.50,200.63 L134.25,200.45 L135.00,200.52 L135.75,200.33 L136.50,200.52 L137.25,200.30 L138.00,200.26 L138.75,200.27 L139.50,200.21 L140.25,200.15 L141.00,200.01 L141.75,200.14 L142.50,200.10 L143.25,199.98 L144.00,199.89 L144.75,199.96 L145.50,199.98 L146.25,199.75 L147.00,199.76 L147.75,199.81 L148.50,199.71 L149.25,199.71 L150.00,199.70 L150.75,199.73 L151.50,199.70 L152.25,199.68 L153.00,199.64 L153.75,199.51 L154.50,199.35 L155.25,199.51 L156.00,199.49 L156.75,199.46 L157.50,199.35 L158.25,199.50 L159.00,199.22 L159.75,199.37 L160.50,199.33 L161.25,199.33 L162.00,199.34 L162.75,199.25 L163.50,199.22 L164.25,199.15 L165.00,199.20 L165.75,199.14 L166.50,199.14 L167.25,198.97 L168.00,198.91 L168.75,198.98 L169.50,198.97 L170.25,198.61 L171.00,198.61 L171.75,198.61 L172.50,198.59 L173.25,198.48 L174.00,198.51 L174.75,198.27 L175.50,198.38 L176.25,198.53 L177.00,198.27 L177.75,198.73 L178.50,198.28 L179.25,198.38 L180.00,198.05 L180.75,198.39 L181.50,198.34 L182.25,198.35 L183.00,198.54 L183.75,198.33 L184.50,198.59 L185.25,198.23 L186.00,198.53 L186.75,198.89 L187.50,198.71 L188.25,198.83 L189.00,198.61 L189.75,198.57 L190.50,199.08 L191.25,199.05 L192.00,199.06 L192.75,198.95 L193.50,199.19 L194.25,198.94 L195.00,199.17 L195.75,199.19 L196.50,198.95 L197.25,199.38 L198.00,199.18 L198.75,199.33 L199.50,198.95 L200.25,199.04 L201.00,199.20 L201.75,199.40 L202.50,199.55 L203.25,199.46 L204.00,199.42 L204.75,199.59 L205.50,199.51 L206.25,199.64 L207.00,199.75 L207.75,199.63 L208.50,199.91 L209.25,199.74 L210.00,200.06 L210.75,200.61 L211.50,200.73 L212.25,201.34 L213.00,201.91 L213.75,202.95 L214.50,204.54 L215.25,205.43 L216.00,206.00 L216.75,206.63 L217.50,206.89 L218.25,206.10 L219.00,205.72 L219.75,204.72 L220.50,204.00 L221.25,203.78 L222.00,203.89 L222.75,203.46 L223.50,203.69 L224.25,203.46 L225.00,204.06 L225.75,204.77 L226.50,204.78 L227.25,203.77 L228.00,203.59 L228.75,203.12 L229.50,203.28 L230.25,203.18 L231.00,203.75 L231.75,203.66 L232.50,203.90 L233.25,204.57 L234.00,204.56 L234.75,204.51 L235.50,204.36 L236.25,204.87 L237.00,204.55 L237.75,204.94 L238.50,205.34 L239.25,205.47 L240.00,205.44 L240.75,205.62 L241.50,205.53 L242.25,205.34 L243.00,205.42 L243.75,205.61 L244.50,205.16 L245.25,205.07 L246.00,204.94 L246.75,204.44 L247.50,204.34 L248.25,204.08 L249.00,204.23 L249.75,203.91 L250.50,203.55 L251.25,203.34 L252.00,203.51 L252.75,203.37 L253.50,203.12 L254.25,202.89 L255.00,202.89 L255.75,203.43 L256.50,205.14 L257.25,207.77 L258.00,209.70 L258.75,210.47 L259.50,210.69 L260.25,210.90 L261.00,211.35 L261.75,212.96 L262.50,214.13 L263.25,213.61 L264.00,212.72 L264.75,213.28 L265.50,214.63 L266.25,216.53 L267.00,219.19 L267.75,220.31 L268.50,222.38 L269.25,223.29 L270.00,223.91 L270.75,223.99 L271.50,222.75 L272.25,218.40 L273.00,213.79 L273.75,211.66 L274.50,210.36 L275.25,209.44 L276.00,209.09 L276.75,208.74 L277.50,209.80 L278.25,210.06 L279.00,210.04 L279.75,208.63 L280.50,207.50 L281.25,207.86 L282.00,207.37 L282.75,207.68 L283.50,207.85 L284.25,207.06 L285.00,206.40 L285.75,206.41 L286.50,206.87 L287.25,207.12 L288.00,208.01 L288.75,208.52 L289.50,209.51 L290.25,209.86 L291.00,210.85 L291.75,211.37 L292.50,210.83 L293.25,210.08 L294.00,211.23 L294.75,211.46 L295.50,212.55 L296.25,213.63 L297.00,213.59 L297.75,214.10 L298.50,214.09 L299.25,214.24 L300.00,214.95 L300.75,214.77 L301.50,215.41 L302.25,216.18 L303.00,217.00 L303.75,217.07 L304.50,217.70 L305.25,218.29 L306.00,218.25 L306.75,218.26 L307.50,218.16 L308.25,217.27 L309.00,216.66 L309.75,216.40 L310.50,217.15 L311.25,218.52 L312.00,218.84 L312.75,218.95 L313.50,218.17 L314.25,217.95 L315.00,217.94 L315.75,218.04 L316.50,217.38 L317.25,216.96 L318.00,218.35 L318.75,218.36 L319.50,218.49 L320.25,219.16 L321.00,219.63" fill="none" stroke="#505050" stroke-width="1.5" stroke-linejoin="round"/>
<rect x="175.7" y="32.3" width="71" height="200.2" fill="none" stroke="#ee1111" stroke-width="1.3" stroke-dasharray="7 2.5 1.5 2.5"/>
<rect x="249.6" y="32.3" width="71" height="200.2" fill="none" stroke="#ee1111" stroke-width="1.6" stroke-dasharray="7 2.5 1.5 2.5"/>
<line x1="217" y1="35" x2="217" y2="233" stroke="#111" stroke-width="1.5" stroke-dasharray="1.5 3.9"/>
<line x1="226.4" y1="35" x2="226.4" y2="233" stroke="#111" stroke-width="1.5" stroke-dasharray="1.5 3.9"/>
<path d="M18.0,234.0 L18.0,28.0 L321.0,28.0 L321.0,234.0" fill="none" stroke="#111" stroke-width="1.4"/>
<line x1="17.3" y1="234.0" x2="321.7" y2="234.0" stroke="#111" stroke-width="1.4"/>
<line x1="321.0" y1="28.0" x2="321.0" y2="234.0" stroke="#ee1111" stroke-width="1.6" stroke-dasharray="7 2.5 1.5 2.5"/>
<line x1="18.00" y1="234.0" x2="18.00" y2="238.5" stroke="#111" stroke-width="1.2"/>
<text x="17.00" y="251.5" text-anchor="middle" font-family="Liberation Serif, serif" font-size="13" fill="#111">4000</text>
<line x1="51.67" y1="234.0" x2="51.67" y2="236.3" stroke="#111" stroke-width="1.1"/>
<line x1="85.33" y1="234.0" x2="85.33" y2="238.5" stroke="#111" stroke-width="1.2"/>
<text x="84.33" y="251.5" text-anchor="middle" font-family="Liberation Serif, serif" font-size="13" fill="#111">3200</text>
<line x1="119.00" y1="234.0" x2="119.00" y2="236.3" stroke="#111" stroke-width="1.1"/>
<line x1="152.67" y1="234.0" x2="152.67" y2="238.5" stroke="#111" stroke-width="1.2"/>
<text x="151.67" y="251.5" text-anchor="middle" font-family="Liberation Serif, serif" font-size="13" fill="#111">2400</text>
<line x1="186.33" y1="234.0" x2="186.33" y2="236.3" stroke="#111" stroke-width="1.1"/>
<line x1="220.00" y1="234.0" x2="220.00" y2="238.5" stroke="#111" stroke-width="1.2"/>
<text x="219.00" y="251.5" text-anchor="middle" font-family="Liberation Serif, serif" font-size="13" fill="#111">1600</text>
<line x1="253.67" y1="234.0" x2="253.67" y2="236.3" stroke="#111" stroke-width="1.1"/>
<line x1="287.33" y1="234.0" x2="287.33" y2="238.5" stroke="#111" stroke-width="1.2"/>
<text x="286.33" y="251.5" text-anchor="middle" font-family="Liberation Serif, serif" font-size="13" fill="#111">800</text>
<line x1="321.00" y1="234.0" x2="321.00" y2="236.3" stroke="#111" stroke-width="1.1"/>
 <text x="186" y="269.2" text-anchor="middle" font-family="Liberation Serif, serif" font-size="14.3" fill="#111">wavenumber(cm<tspan dy="-5" font-size="9">-1</tspan><tspan dy="5">)</tspan></text>
<text x="19.8" y="49.7" font-family="Liberation Sans, sans-serif" font-size="9" fill="#f81010">0.2174</text>
<text x="19.8" y="88.0" font-family="Liberation Sans, sans-serif" font-size="9" fill="#f81010">0.4957</text>
<text x="19.8" y="117.9" font-family="Liberation Sans, sans-serif" font-size="9" fill="#f81010">0.4720</text>
<text x="19.8" y="148.5" font-family="Liberation Sans, sans-serif" font-size="9" fill="#f81010">0.4710</text>
<text x="19.8" y="179.6" font-family="Liberation Sans, sans-serif" font-size="9" fill="#f81010">0.4600</text>
<text x="19.8" y="214.6" font-family="Liberation Sans, sans-serif" font-size="9" fill="#f81010">0.2700</text>
<path d="M48.6,53.7 L60.8,53.7 M52.2,50.6 L48.6,53.7 L52.2,56.8" fill="none" stroke="#111" stroke-width="0.9"/>
<text x="33.5" y="66.5" font-family="Liberation Serif, serif" font-size="9" fill="#111">R<tspan dy="4.7" font-size="10">1047/1022</tspan></text>
<text x="251.2" y="70.3" font-family="Liberation Serif, serif" font-size="6.8" fill="#000">1047</text>
<text x="272.7" y="71.5" font-family="Liberation Serif, serif" font-size="6.8" fill="#000">1022</text>
<text x="197.5" y="97" font-family="Liberation Serif, serif" font-size="6.8" fill="#000">1645</text>
<text x="229.7" y="98.2" font-family="Liberation Serif, serif" font-size="6.8" fill="#000">1539</text>
<line x1="260.3" y1="64.4" x2="266.7" y2="58.4" stroke="#111" stroke-width="1.5"/>
<line x1="273.2" y1="68" x2="267.9" y2="62.7" stroke="#111" stroke-width="1.5"/>
<line x1="209.8" y1="89.6" x2="217" y2="84.7" stroke="#111" stroke-width="1.5"/>
<line x1="232.6" y1="89.5" x2="226.6" y2="81.1" stroke="#111" stroke-width="1.5"/>
<text x="179.5" y="227.5" font-family="Liberation Serif, serif" font-size="10" fill="#444">I</text>
<text x="251.5" y="227.5" font-family="Liberation Serif, serif" font-size="10" fill="#444">II</text>
<text x="302.5" y="47.7" font-family="Liberation Serif, serif" font-size="10" fill="#222">PS</text>
<text x="269.8" y="81.6" font-family="Liberation Serif, serif" font-size="10" letter-spacing="0.3" fill="#222">PS-SPAA<tspan dy="2.5" font-size="7">130</tspan></text>
<text x="269.8" y="109.8" font-family="Liberation Serif, serif" font-size="10" letter-spacing="0.3" fill="#222">PS-SPAA<tspan dy="2.5" font-size="7">110</tspan></text>
<text x="272.6" y="141.5" font-family="Liberation Serif, serif" font-size="10" letter-spacing="0.3" fill="#222">PS-SPAA<tspan dy="2.5" font-size="7">90</tspan></text>
<text x="272.0" y="171.2" font-family="Liberation Serif, serif" font-size="10" letter-spacing="0.3" fill="#222">PS-SPAA<tspan dy="2.5" font-size="7">70</tspan></text>
<text x="272.6" y="203.6" font-family="Liberation Serif, serif" font-size="10" letter-spacing="0.3" fill="#222">PS-SPAA<tspan dy="2.5" font-size="7">25</tspan></text>
</g>
<g id="panelB">
<text x="348.4" y="25" font-family="Liberation Serif, serif" font-size="10" fill="#222">B</text>
<clipPath id="cpa"><rect x="368" y="18" width="66" height="65.5"/></clipPath>
<g clip-path="url(#cpa)">
<rect x="368" y="18" width="66" height="65.5" fill="#11133a"/>
<g filter="url(#blur)">
<rect x="368.7" y="26.3" width="3.1" height="3.1" transform="rotate(45 370.2 27.8)" fill="#4c6c84" opacity="0.62"/>
<rect x="379.9" y="26.9" width="4.5" height="4.5" transform="rotate(45 382.2 29.1)" fill="#4c6c84" opacity="0.62"/>
<rect x="388.4" y="27.8" width="2.7" height="2.7" transform="rotate(45 389.8 29.1)" fill="#4c6c84" opacity="0.62"/>
<rect x="380.5" y="35.7" width="4.9" height="4.9" transform="rotate(45 382.9 38.1)" fill="#4c6c84" opacity="0.62"/>
<rect x="368.3" y="38.3" width="3.9" height="3.9" transform="rotate(45 370.2 40.3)" fill="#4c6c84" opacity="0.62"/>
<rect x="368.9" y="49.4" width="4.1" height="4.1" transform="rotate(45 371.0 51.4)" fill="#4c6c84" opacity="0.62"/>
<rect x="370.8" y="56.3" width="3.3" height="3.3" transform="rotate(45 372.5 58.0)" fill="#4c6c84" opacity="0.62"/>
<rect x="378.8" y="60.7" width="4.9" height="4.9" transform="rotate(45 381.2 63.2)" fill="#4c6c84" opacity="0.62"/>
<rect x="389.2" y="57.1" width="3.7" height="3.7" transform="rotate(45 391.1 58.9)" fill="#4c6c84" opacity="0.62"/>
<rect x="368.4" y="66.6" width="3.7" height="3.7" transform="rotate(45 370.2 68.4)" fill="#4c6c84" opacity="0.62"/>
<rect x="389.4" y="69.3" width="3.5" height="3.5" transform="rotate(45 391.1 71.1)" fill="#4c6c84" opacity="0.62"/>
<rect x="386.2" y="74.6" width="3.3" height="3.3" transform="rotate(45 387.8 76.3)" fill="#4c6c84" opacity="0.62"/>
<rect x="403.6" y="25.3" width="3.3" height="3.3" transform="rotate(45 405.3 26.9)" fill="#4c6c84" opacity="0.62"/>
<rect x="411.7" y="21.4" width="3.7" height="3.7" transform="rotate(45 413.5 23.2)" fill="#4c6c84" opacity="0.62"/>
<rect x="423.6" y="20.1" width="3.7" height="3.7" transform="rotate(45 425.4 21.9)" fill="#4c6c84" opacity="0.62"/>
<rect x="411.9" y="32.4" width="3.3" height="3.3" transform="rotate(45 413.5 34.0)" fill="#4c6c84" opacity="0.62"/>
<rect x="395.8" y="34.4" width="2.5" height="2.5" transform="rotate(45 397.0 35.7)" fill="#4c6c84" opacity="0.62"/>
<rect x="402.2" y="39.5" width="2.9" height="2.9" transform="rotate(45 403.6 40.9)" fill="#4c6c84" opacity="0.62"/>
<rect x="388.9" y="46.3" width="3.1" height="3.1" transform="rotate(45 390.4 47.8)" fill="#4c6c84" opacity="0.62"/>
<rect x="405.4" y="52.1" width="3.1" height="3.1" transform="rotate(45 406.9 53.7)" fill="#4c6c84" opacity="0.62"/>
<rect x="430.5" y="59.0" width="3.1" height="3.1" transform="rotate(45 432.0 60.6)" fill="#4c6c84" opacity="0.62"/>
<rect x="400.9" y="68.6" width="2.9" height="2.9" transform="rotate(45 402.3 70.1)" fill="#4c6c84" opacity="0.62"/>
<rect x="418.0" y="65.7" width="2.9" height="2.9" transform="rotate(45 419.5 67.1)" fill="#4c6c84" opacity="0.62"/>
<rect x="368.4" y="77.4" width="3.1" height="3.1" transform="rotate(45 370.0 78.9)" fill="#4c6c84" opacity="0.62"/>
<rect x="375.1" y="19.8" width="2.9" height="2.9" transform="rotate(45 376.6 21.3)" fill="#4c6c84" opacity="0.62"/>
<ellipse cx="417.9" cy="48.5" rx="6.5" ry="4.5" fill="#04040f" opacity="0.5"/>
<ellipse cx="411.9" cy="47.5" rx="5.8" ry="4.9" fill="#dd8e2c"/>
<ellipse cx="416.1" cy="49.0" rx="4.4" ry="3.3" fill="#dd8e2c"/>
<ellipse cx="411.9" cy="47.5" rx="4.6" ry="3.7" fill="#fff6d8"/>
<ellipse cx="415.9" cy="48.9" rx="2.8" ry="1.9" fill="#fbe08a"/>
<rect x="417.0" y="71.2" width="7.6" height="7.6" rx="1.4" transform="rotate(35 420.8 75.0)" fill="#e09a2e"/>
<rect x="418.0" y="72.2" width="5.6" height="5.6" rx="1.2" transform="rotate(35 420.8 75.0)" fill="#fdeaa8"/>
</g></g>
<clipPath id="cpb"><rect x="466" y="18" width="69.8" height="64"/></clipPath>
<g clip-path="url(#cpb)">
<rect x="466" y="18" width="69.8" height="64" fill="#0b720b"/>
<rect x="466" y="18" width="69.8" height="64" filter="url(#texb)" opacity="0.3"/>
<g filter="url(#blur)">
<rect x="466.2" y="25.4" width="4.4" height="4.4" transform="rotate(45 468.4 27.6)" fill="#2ce42c" opacity="0.7"/>
<rect x="467.2" y="26.4" width="2.4" height="2.4" transform="rotate(45 468.4 27.6)" fill="#063006" opacity="0.95"/>
<rect x="478.1" y="26.0" width="5.8" height="5.8" transform="rotate(45 481.0 28.9)" fill="#2ce42c" opacity="0.7"/>
<rect x="479.1" y="27.0" width="3.8" height="3.8" transform="rotate(45 481.0 28.9)" fill="#063006" opacity="0.95"/>
<rect x="487.0" y="26.9" width="4.0" height="4.0" transform="rotate(45 489.0 28.9)" fill="#2ce42c" opacity="0.7"/>
<rect x="488.0" y="27.9" width="2.0" height="2.0" transform="rotate(45 489.0 28.9)" fill="#063006" opacity="0.95"/>
<rect x="478.7" y="34.5" width="6.2" height="6.2" transform="rotate(45 481.8 37.6)" fill="#2ce42c" opacity="0.7"/>
<rect x="479.7" y="35.5" width="4.2" height="4.2" transform="rotate(45 481.8 37.6)" fill="#063006" opacity="0.95"/>
<rect x="465.8" y="37.2" width="5.2" height="5.2" transform="rotate(45 468.4 39.8)" fill="#2ce42c" opacity="0.7"/>
<rect x="466.8" y="38.2" width="3.2" height="3.2" transform="rotate(45 468.4 39.8)" fill="#063006" opacity="0.95"/>
<rect x="466.4" y="47.9" width="5.4" height="5.4" transform="rotate(45 469.1 50.6)" fill="#2ce42c" opacity="0.7"/>
<rect x="467.4" y="48.9" width="3.4" height="3.4" transform="rotate(45 469.1 50.6)" fill="#063006" opacity="0.95"/>
<rect x="468.4" y="54.7" width="4.6" height="4.6" transform="rotate(45 470.7 57.0)" fill="#2ce42c" opacity="0.7"/>
<rect x="469.4" y="55.7" width="2.6" height="2.6" transform="rotate(45 470.7 57.0)" fill="#063006" opacity="0.95"/>
<rect x="476.9" y="59.1" width="6.2" height="6.2" transform="rotate(45 480.0 62.2)" fill="#2ce42c" opacity="0.7"/>
<rect x="477.9" y="60.1" width="4.2" height="4.2" transform="rotate(45 480.0 62.2)" fill="#063006" opacity="0.95"/>
<rect x="487.9" y="55.5" width="5.0" height="5.0" transform="rotate(45 490.4 58.0)" fill="#2ce42c" opacity="0.7"/>
<rect x="488.9" y="56.5" width="3.0" height="3.0" transform="rotate(45 490.4 58.0)" fill="#063006" opacity="0.95"/>
<rect x="465.9" y="64.8" width="5.0" height="5.0" transform="rotate(45 468.4 67.3)" fill="#2ce42c" opacity="0.7"/>
<rect x="466.9" y="65.8" width="3.0" height="3.0" transform="rotate(45 468.4 67.3)" fill="#063006" opacity="0.95"/>
<rect x="488.0" y="67.4" width="4.8" height="4.8" transform="rotate(45 490.4 69.8)" fill="#2ce42c" opacity="0.7"/>
<rect x="489.0" y="68.4" width="2.8" height="2.8" transform="rotate(45 490.4 69.8)" fill="#063006" opacity="0.95"/>
<rect x="484.6" y="72.7" width="4.6" height="4.6" transform="rotate(45 486.9 75.0)" fill="#2ce42c" opacity="0.7"/>
<rect x="485.6" y="73.7" width="2.6" height="2.6" transform="rotate(45 486.9 75.0)" fill="#063006" opacity="0.95"/>
<rect x="503.1" y="24.4" width="4.6" height="4.6" transform="rotate(45 505.4 26.7)" fill="#2ce42c" opacity="0.7"/>
<rect x="504.1" y="25.4" width="2.6" height="2.6" transform="rotate(45 505.4 26.7)" fill="#063006" opacity="0.95"/>
<rect x="511.7" y="20.6" width="5.0" height="5.0" transform="rotate(45 514.2 23.1)" fill="#2ce42c" opacity="0.7"/>
<rect x="512.7" y="21.6" width="3.0" height="3.0" transform="rotate(45 514.2 23.1)" fill="#063006" opacity="0.95"/>
<rect x="524.2" y="19.3" width="5.0" height="5.0" transform="rotate(45 526.7 21.8)" fill="#2ce42c" opacity="0.7"/>
<rect x="525.2" y="20.3" width="3.0" height="3.0" transform="rotate(45 526.7 21.8)" fill="#063006" opacity="0.95"/>
<rect x="511.9" y="31.4" width="4.6" height="4.6" transform="rotate(45 514.2 33.7)" fill="#2ce42c" opacity="0.7"/>
<rect x="512.9" y="32.4" width="2.6" height="2.6" transform="rotate(45 514.2 33.7)" fill="#063006" opacity="0.95"/>
<rect x="494.8" y="33.4" width="3.8" height="3.8" transform="rotate(45 496.7 35.3)" fill="#2ce42c" opacity="0.7"/>
<rect x="495.8" y="34.4" width="1.8" height="1.8" transform="rotate(45 496.7 35.3)" fill="#063006" opacity="0.95"/>
<rect x="501.6" y="38.3" width="4.2" height="4.2" transform="rotate(45 503.7 40.4)" fill="#2ce42c" opacity="0.7"/>
<rect x="502.6" y="39.3" width="2.2" height="2.2" transform="rotate(45 503.7 40.4)" fill="#063006" opacity="0.95"/>
<rect x="487.5" y="44.9" width="4.4" height="4.4" transform="rotate(45 489.7 47.1)" fill="#2ce42c" opacity="0.7"/>
<rect x="488.5" y="45.9" width="2.4" height="2.4" transform="rotate(45 489.7 47.1)" fill="#063006" opacity="0.95"/>
<rect x="505.0" y="50.7" width="4.4" height="4.4" transform="rotate(45 507.2 52.9)" fill="#2ce42c" opacity="0.7"/>
<rect x="506.0" y="51.7" width="2.4" height="2.4" transform="rotate(45 507.2 52.9)" fill="#063006" opacity="0.95"/>
<rect x="531.5" y="57.4" width="4.4" height="4.4" transform="rotate(45 533.7 59.6)" fill="#2ce42c" opacity="0.7"/>
<rect x="532.5" y="58.4" width="2.4" height="2.4" transform="rotate(45 533.7 59.6)" fill="#063006" opacity="0.95"/>
<rect x="500.2" y="66.8" width="4.2" height="4.2" transform="rotate(45 502.3 68.9)" fill="#2ce42c" opacity="0.7"/>
<rect x="501.2" y="67.8" width="2.2" height="2.2" transform="rotate(45 502.3 68.9)" fill="#063006" opacity="0.95"/>
<rect x="518.3" y="63.9" width="4.2" height="4.2" transform="rotate(45 520.4 66.0)" fill="#2ce42c" opacity="0.7"/>
<rect x="519.3" y="64.9" width="2.2" height="2.2" transform="rotate(45 520.4 66.0)" fill="#063006" opacity="0.95"/>
<rect x="465.9" y="75.3" width="4.4" height="4.4" transform="rotate(45 468.1 77.5)" fill="#2ce42c" opacity="0.7"/>
<rect x="466.9" y="76.3" width="2.4" height="2.4" transform="rotate(45 468.1 77.5)" fill="#063006" opacity="0.95"/>
<rect x="473.0" y="19.1" width="4.2" height="4.2" transform="rotate(45 475.1 21.2)" fill="#2ce42c" opacity="0.7"/>
<rect x="474.0" y="20.1" width="2.2" height="2.2" transform="rotate(45 475.1 21.2)" fill="#063006" opacity="0.95"/>
<ellipse cx="513.5" cy="44.9" rx="18.1" ry="12.8" fill="#28c828" opacity="0.3" filter="url(#blur3)"/>
<circle cx="497.4" cy="32.1" r="1.1" fill="#2ce42c" opacity="0.75"/>
<circle cx="509.3" cy="29.5" r="1.1" fill="#2ce42c" opacity="0.75"/>
<circle cx="500.9" cy="44.9" r="1.1" fill="#2ce42c" opacity="0.75"/>
<circle cx="505.1" cy="51.3" r="1.1" fill="#2ce42c" opacity="0.75"/>
<circle cx="489.0" cy="39.1" r="1.1" fill="#2ce42c" opacity="0.75"/>
<circle cx="518.4" cy="57.7" r="1.1" fill="#2ce42c" opacity="0.75"/>
<circle cx="528.8" cy="37.2" r="1.1" fill="#2ce42c" opacity="0.75"/>
<circle cx="507.9" cy="61.5" r="1.1" fill="#2ce42c" opacity="0.75"/>
<circle cx="476.5" cy="44.9" r="1.1" fill="#2ce42c" opacity="0.75"/>
<circle cx="495.3" cy="53.2" r="1.1" fill="#2ce42c" opacity="0.75"/>
<circle cx="526.0" cy="64.1" r="1.1" fill="#2ce42c" opacity="0.75"/>
<circle cx="483.4" cy="50.0" r="1.1" fill="#2ce42c" opacity="0.75"/>
<ellipse cx="513.8" cy="47.4" rx="8.4" ry="6.0" fill="#34ea34"/>
<ellipse cx="510.8" cy="51.9" rx="3.5" ry="2.6" fill="#34ea34" opacity="0.8"/>
<ellipse cx="514.4" cy="47.0" rx="5.8" ry="3.5" fill="#0a2c0a"/>
<circle cx="521.8" cy="73.7" r="5.4" fill="#34ea34"/>
<rect x="519.1" y="71.0" width="5.4" height="5.4" rx="1" transform="rotate(40 521.8 73.7)" fill="#0a2c0a"/>
</g></g>
<clipPath id="cpd"><rect x="466" y="83.8" width="69.8" height="65.2"/></clipPath>
<g clip-path="url(#cpd)">
<rect x="466" y="83.8" width="69.8" height="65.2" fill="#e84e0c"/>
<rect x="466" y="83.8" width="69.8" height="65.2" filter="url(#texd)" opacity="0.3"/>
<g filter="url(#blur)">
<rect x="466.3" y="91.5" width="4.2" height="4.2" transform="rotate(45 468.4 93.6)" fill="#7ee228" opacity="0.8"/>
<rect x="467.2" y="92.4" width="2.4" height="2.4" transform="rotate(45 468.4 93.6)" fill="#3c3208" opacity="0.95"/>
<rect x="478.2" y="92.1" width="5.6" height="5.6" transform="rotate(45 481.0 94.9)" fill="#7ee228" opacity="0.8"/>
<rect x="479.1" y="93.0" width="3.8" height="3.8" transform="rotate(45 481.0 94.9)" fill="#3c3208" opacity="0.95"/>
<rect x="487.1" y="93.0" width="3.8" height="3.8" transform="rotate(45 489.0 94.9)" fill="#7ee228" opacity="0.8"/>
<rect x="488.0" y="93.9" width="2.0" height="2.0" transform="rotate(45 489.0 94.9)" fill="#3c3208" opacity="0.95"/>
<rect x="478.8" y="100.8" width="6.0" height="6.0" transform="rotate(45 481.8 103.8)" fill="#7ee228" opacity="0.8"/>
<rect x="479.7" y="101.7" width="4.2" height="4.2" transform="rotate(45 481.8 103.8)" fill="#3c3208" opacity="0.95"/>
<rect x="465.9" y="103.5" width="5.0" height="5.0" transform="rotate(45 468.4 106.0)" fill="#7ee228" opacity="0.8"/>
<rect x="466.8" y="104.4" width="3.2" height="3.2" transform="rotate(45 468.4 106.0)" fill="#3c3208" opacity="0.95"/>
<rect x="466.5" y="114.5" width="5.2" height="5.2" transform="rotate(45 469.1 117.1)" fill="#7ee228" opacity="0.8"/>
<rect x="467.4" y="115.4" width="3.4" height="3.4" transform="rotate(45 469.1 117.1)" fill="#3c3208" opacity="0.95"/>
<rect x="468.5" y="121.4" width="4.4" height="4.4" transform="rotate(45 470.7 123.6)" fill="#7ee228" opacity="0.8"/>
<rect x="469.4" y="122.3" width="2.6" height="2.6" transform="rotate(45 470.7 123.6)" fill="#3c3208" opacity="0.95"/>
<rect x="477.0" y="125.8" width="6.0" height="6.0" transform="rotate(45 480.0 128.8)" fill="#7ee228" opacity="0.8"/>
<rect x="477.9" y="126.7" width="4.2" height="4.2" transform="rotate(45 480.0 128.8)" fill="#3c3208" opacity="0.95"/>
<rect x="488.0" y="122.1" width="4.8" height="4.8" transform="rotate(45 490.4 124.5)" fill="#7ee228" opacity="0.8"/>
<rect x="488.9" y="123.0" width="3.0" height="3.0" transform="rotate(45 490.4 124.5)" fill="#3c3208" opacity="0.95"/>
<rect x="466.0" y="131.6" width="4.8" height="4.8" transform="rotate(45 468.4 134.0)" fill="#7ee228" opacity="0.8"/>
<rect x="466.9" y="132.5" width="3.0" height="3.0" transform="rotate(45 468.4 134.0)" fill="#3c3208" opacity="0.95"/>
<rect x="488.1" y="134.3" width="4.6" height="4.6" transform="rotate(45 490.4 136.6)" fill="#7ee228" opacity="0.8"/>
<rect x="489.0" y="135.2" width="2.8" height="2.8" transform="rotate(45 490.4 136.6)" fill="#3c3208" opacity="0.95"/>
<rect x="484.7" y="139.6" width="4.4" height="4.4" transform="rotate(45 486.9 141.8)" fill="#7ee228" opacity="0.8"/>
<rect x="485.6" y="140.5" width="2.6" height="2.6" transform="rotate(45 486.9 141.8)" fill="#3c3208" opacity="0.95"/>
<rect x="503.2" y="90.5" width="4.4" height="4.4" transform="rotate(45 505.4 92.7)" fill="#7ee228" opacity="0.8"/>
<rect x="504.1" y="91.4" width="2.6" height="2.6" transform="rotate(45 505.4 92.7)" fill="#3c3208" opacity="0.95"/>
<rect x="511.8" y="86.6" width="4.8" height="4.8" transform="rotate(45 514.2 89.0)" fill="#7ee228" opacity="0.8"/>
<rect x="512.7" y="87.5" width="3.0" height="3.0" transform="rotate(45 514.2 89.0)" fill="#3c3208" opacity="0.95"/>
<rect x="524.3" y="85.3" width="4.8" height="4.8" transform="rotate(45 526.7 87.7)" fill="#7ee228" opacity="0.8"/>
<rect x="525.2" y="86.2" width="3.0" height="3.0" transform="rotate(45 526.7 87.7)" fill="#3c3208" opacity="0.95"/>
<rect x="512.0" y="97.6" width="4.4" height="4.4" transform="rotate(45 514.2 99.8)" fill="#7ee228" opacity="0.8"/>
<rect x="512.9" y="98.5" width="2.6" height="2.6" transform="rotate(45 514.2 99.8)" fill="#3c3208" opacity="0.95"/>
<rect x="494.9" y="99.6" width="3.6" height="3.6" transform="rotate(45 496.7 101.4)" fill="#7ee228" opacity="0.8"/>
<rect x="495.8" y="100.5" width="1.8" height="1.8" transform="rotate(45 496.7 101.4)" fill="#3c3208" opacity="0.95"/>
<rect x="501.7" y="104.6" width="4.0" height="4.0" transform="rotate(45 503.7 106.6)" fill="#7ee228" opacity="0.8"/>
<rect x="502.6" y="105.5" width="2.2" height="2.2" transform="rotate(45 503.7 106.6)" fill="#3c3208" opacity="0.95"/>
<rect x="487.6" y="111.4" width="4.2" height="4.2" transform="rotate(45 489.7 113.5)" fill="#7ee228" opacity="0.8"/>
<rect x="488.5" y="112.3" width="2.4" height="2.4" transform="rotate(45 489.7 113.5)" fill="#3c3208" opacity="0.95"/>
<rect x="505.1" y="117.2" width="4.2" height="4.2" transform="rotate(45 507.2 119.3)" fill="#7ee228" opacity="0.8"/>
<rect x="506.0" y="118.1" width="2.4" height="2.4" transform="rotate(45 507.2 119.3)" fill="#3c3208" opacity="0.95"/>
<rect x="531.6" y="124.1" width="4.2" height="4.2" transform="rotate(45 533.7 126.2)" fill="#7ee228" opacity="0.8"/>
<rect x="532.5" y="125.0" width="2.4" height="2.4" transform="rotate(45 533.7 126.2)" fill="#3c3208" opacity="0.95"/>
<rect x="500.3" y="133.6" width="4.0" height="4.0" transform="rotate(45 502.3 135.6)" fill="#7ee228" opacity="0.8"/>
<rect x="501.2" y="134.5" width="2.2" height="2.2" transform="rotate(45 502.3 135.6)" fill="#3c3208" opacity="0.95"/>
<rect x="518.4" y="130.7" width="4.0" height="4.0" transform="rotate(45 520.4 132.7)" fill="#7ee228" opacity="0.8"/>
<rect x="519.3" y="131.6" width="2.2" height="2.2" transform="rotate(45 520.4 132.7)" fill="#3c3208" opacity="0.95"/>
<rect x="466.0" y="142.3" width="4.2" height="4.2" transform="rotate(45 468.1 144.4)" fill="#7ee228" opacity="0.8"/>
<rect x="466.9" y="143.2" width="2.4" height="2.4" transform="rotate(45 468.1 144.4)" fill="#3c3208" opacity="0.95"/>
<rect x="473.1" y="85.1" width="4.0" height="4.0" transform="rotate(45 475.1 87.1)" fill="#7ee228" opacity="0.8"/>
<rect x="474.0" y="86.0" width="2.2" height="2.2" transform="rotate(45 475.1 87.1)" fill="#3c3208" opacity="0.95"/>
<ellipse cx="516.3" cy="103.4" rx="20.9" ry="14.3" fill="#b8c820" opacity="0.28" filter="url(#blur3)"/>
<ellipse cx="486.9" cy="91.6" rx="20.9" ry="6.5" fill="#b8c820" opacity="0.2" filter="url(#blur3)"/>
<circle cx="497.4" cy="98.1" r="1.1" fill="#86e828" opacity="0.75"/>
<circle cx="509.3" cy="95.5" r="1.1" fill="#86e828" opacity="0.75"/>
<circle cx="500.9" cy="111.2" r="1.1" fill="#86e828" opacity="0.75"/>
<circle cx="505.1" cy="117.7" r="1.1" fill="#86e828" opacity="0.75"/>
<circle cx="489.0" cy="105.3" r="1.1" fill="#86e828" opacity="0.75"/>
<circle cx="518.4" cy="124.2" r="1.1" fill="#86e828" opacity="0.75"/>
<circle cx="528.8" cy="103.4" r="1.1" fill="#86e828" opacity="0.75"/>
<circle cx="507.9" cy="128.1" r="1.1" fill="#86e828" opacity="0.75"/>
<circle cx="476.5" cy="111.2" r="1.1" fill="#86e828" opacity="0.75"/>
<circle cx="495.3" cy="119.7" r="1.1" fill="#86e828" opacity="0.75"/>
<circle cx="526.0" cy="130.7" r="1.1" fill="#86e828" opacity="0.75"/>
<circle cx="483.4" cy="116.4" r="1.1" fill="#86e828" opacity="0.75"/>
<ellipse cx="513.8" cy="113.8" rx="8.4" ry="6.0" fill="#5ee232"/>
<ellipse cx="510.8" cy="118.3" rx="3.5" ry="2.6" fill="#5ee232" opacity="0.8"/>
<ellipse cx="514.4" cy="113.4" rx="5.8" ry="3.5" fill="#0c300a"/>
<circle cx="521.8" cy="140.5" r="5.4" fill="#5ee232"/>
<rect x="519.1" y="137.8" width="5.4" height="5.4" rx="1" transform="rotate(40 521.8 140.5)" fill="#0c300a"/>
</g></g>
<clipPath id="cpc"><rect x="572.2" y="18" width="69.7" height="66.8"/></clipPath>
<g clip-path="url(#cpc)">
<rect x="572.2" y="18" width="69.7" height="66.8" fill="#e00505"/>
<rect x="572.2" y="18" width="69.7" height="66.8" filter="url(#texc)" opacity="0.3"/>
<g filter="url(#blur)">
<rect x="572.8" y="26.2" width="3.6" height="3.6" transform="rotate(45 574.6 28.0)" fill="#560000" opacity="0.9"/>
<rect x="584.7" y="26.9" width="5.0" height="5.0" transform="rotate(45 587.2 29.4)" fill="#560000" opacity="0.9"/>
<rect x="593.6" y="27.8" width="3.2" height="3.2" transform="rotate(45 595.2 29.4)" fill="#560000" opacity="0.9"/>
<rect x="585.3" y="35.8" width="5.4" height="5.4" transform="rotate(45 588.0 38.5)" fill="#560000" opacity="0.9"/>
<rect x="572.4" y="38.5" width="4.4" height="4.4" transform="rotate(45 574.6 40.7)" fill="#560000" opacity="0.9"/>
<rect x="573.0" y="49.8" width="4.6" height="4.6" transform="rotate(45 575.3 52.1)" fill="#560000" opacity="0.9"/>
<rect x="575.0" y="56.8" width="3.8" height="3.8" transform="rotate(45 576.9 58.7)" fill="#560000" opacity="0.9"/>
<rect x="583.4" y="61.4" width="5.4" height="5.4" transform="rotate(45 586.1 64.1)" fill="#560000" opacity="0.9"/>
<rect x="594.5" y="57.6" width="4.2" height="4.2" transform="rotate(45 596.6 59.8)" fill="#560000" opacity="0.9"/>
<rect x="572.5" y="67.3" width="4.2" height="4.2" transform="rotate(45 574.6 69.4)" fill="#560000" opacity="0.9"/>
<rect x="594.6" y="70.1" width="4.0" height="4.0" transform="rotate(45 596.6 72.1)" fill="#560000" opacity="0.9"/>
<rect x="591.2" y="75.6" width="3.8" height="3.8" transform="rotate(45 593.1 77.5)" fill="#560000" opacity="0.9"/>
<rect x="609.7" y="25.2" width="3.8" height="3.8" transform="rotate(45 611.6 27.1)" fill="#560000" opacity="0.9"/>
<rect x="618.2" y="21.2" width="4.2" height="4.2" transform="rotate(45 620.3 23.3)" fill="#560000" opacity="0.9"/>
<rect x="630.7" y="19.9" width="4.2" height="4.2" transform="rotate(45 632.8 22.0)" fill="#560000" opacity="0.9"/>
<rect x="618.4" y="32.5" width="3.8" height="3.8" transform="rotate(45 620.3 34.4)" fill="#560000" opacity="0.9"/>
<rect x="601.4" y="34.5" width="3.0" height="3.0" transform="rotate(45 602.9 36.0)" fill="#560000" opacity="0.9"/>
<rect x="608.1" y="39.7" width="3.4" height="3.4" transform="rotate(45 609.8 41.4)" fill="#560000" opacity="0.9"/>
<rect x="594.1" y="46.6" width="3.6" height="3.6" transform="rotate(45 595.9 48.4)" fill="#560000" opacity="0.9"/>
<rect x="611.5" y="52.6" width="3.6" height="3.6" transform="rotate(45 613.3 54.4)" fill="#560000" opacity="0.9"/>
<rect x="638.0" y="59.6" width="3.6" height="3.6" transform="rotate(45 639.8 61.4)" fill="#560000" opacity="0.9"/>
<rect x="606.7" y="69.4" width="3.4" height="3.4" transform="rotate(45 608.4 71.1)" fill="#560000" opacity="0.9"/>
<rect x="624.9" y="66.4" width="3.4" height="3.4" transform="rotate(45 626.6 68.1)" fill="#560000" opacity="0.9"/>
<rect x="572.5" y="78.3" width="3.6" height="3.6" transform="rotate(45 574.3 80.1)" fill="#560000" opacity="0.9"/>
<rect x="579.6" y="19.6" width="3.4" height="3.4" transform="rotate(45 581.3 21.3)" fill="#560000" opacity="0.9"/>
<ellipse cx="620.3" cy="48.4" rx="8.6" ry="6.2" fill="#9a0c0c" opacity="0.6"/>
<ellipse cx="620.3" cy="48.4" rx="6.6" ry="4.4" fill="#1c0000"/>
<circle cx="628.0" cy="76.1" r="5.6" fill="#9a0c0c" opacity="0.6"/>
<circle cx="628.0" cy="76.1" r="4.0" fill="#2a0000"/>
</g></g>
<rect x="439.2" y="25.4" width="6.4" height="50" fill="url(#cbA)"/>
<rect x="539.9" y="24" width="6.7" height="51.4" fill="url(#cbB)"/>
<rect x="648.6" y="24" width="6.4" height="52.5" fill="url(#cbC)"/>
<text x="369" y="23" font-family="Liberation Sans, sans-serif" font-size="4.6" font-weight="bold" fill="#fff" text-anchor="start">Topography</text>
<text x="369.5" y="79" font-family="Liberation Sans, sans-serif" font-size="5" font-weight="bold" fill="#fff" text-anchor="start">1.00 µm</text>
<line x1="370" y1="81" x2="384.5" y2="81" stroke="#fff" stroke-width="0.9"/>
<text x="435.8" y="21.2" font-family="Liberation Sans, sans-serif" font-size="4.4" font-weight="bold" fill="#111" text-anchor="start">261 nm</text>
<text x="437" y="82.4" font-family="Liberation Sans, sans-serif" font-size="4.4" font-weight="bold" fill="#111" text-anchor="start">0 nm</text>
<text x="425.5" y="79.3" font-family="Liberation Sans, sans-serif" font-size="9.5" font-weight="normal" fill="#e01010" text-anchor="start">a</text>
<text x="467" y="23" font-family="Liberation Sans, sans-serif" font-size="4.6" font-weight="bold" fill="#fff" text-anchor="start">PiFM</text>
<text x="534" y="23" font-family="Liberation Sans, sans-serif" font-size="4.6" font-weight="bold" fill="#fff" text-anchor="end">1539 1/cm</text>
<text x="467.5" y="77.6" font-family="Liberation Sans, sans-serif" font-size="5" font-weight="bold" fill="#fff" text-anchor="start">1.00 µm</text>
<line x1="468" y1="79.6" x2="484" y2="79.6" stroke="#fff" stroke-width="0.9"/>
<text x="537" y="21.5" font-family="Liberation Sans, sans-serif" font-size="4.6" font-weight="bold" fill="#111" text-anchor="start">619 mV</text>
<text x="537" y="79.7" font-family="Liberation Sans, sans-serif" font-size="4.6" font-weight="bold" fill="#111" text-anchor="start">164 mV</text>
<text x="529" y="78" font-family="Liberation Serif, serif" font-size="9" fill="#d01818">b</text>
<text x="573.5" y="23" font-family="Liberation Sans, sans-serif" font-size="4.6" font-weight="bold" fill="#fff" text-anchor="start">PiFM</text>
<text x="640.5" y="23" font-family="Liberation Sans, sans-serif" font-size="4.6" font-weight="bold" fill="#fff" text-anchor="end">1047 1/cm</text>
<text x="574" y="79.5" font-family="Liberation Sans, sans-serif" font-size="5" font-weight="bold" fill="#fff" text-anchor="start">1.00 µm</text>
<line x1="574.8" y1="81.5" x2="590.5" y2="81.5" stroke="#fff" stroke-width="0.9"/>
<text x="642.6" y="22.5" font-family="Liberation Sans, sans-serif" font-size="4.4" font-weight="bold" fill="#111" text-anchor="start">406 mV</text>
<text x="642.6" y="82.6" font-family="Liberation Sans, sans-serif" font-size="4.4" font-weight="bold" fill="#111" text-anchor="start">133 mV</text>
<text x="634" y="80.5" font-family="Liberation Serif, serif" font-size="10" fill="#5a0505">c</text>
<text x="530.5" y="145.3" font-family="Liberation Serif, serif" font-size="10" fill="#3a2005">d</text>
<path d="M360.50,173.56 L361.20,173.70 L361.90,173.32 L362.60,173.22 L363.30,173.13 L364.00,173.71 L364.70,173.55 L365.40,174.14 L366.10,173.74 L366.80,174.65 L367.50,174.67 L368.20,174.53 L368.90,175.09 L369.60,175.20 L370.30,175.11 L371.00,174.82 L371.70,174.72 L372.40,174.46 L373.10,174.05 L373.80,173.96 L374.50,173.48 L375.20,173.74 L375.90,173.11 L376.60,173.17 L377.30,172.77 L378.00,173.06 L378.70,172.73 L379.40,172.32 L380.10,172.47 L380.80,172.25 L381.50,172.34 L382.20,172.12 L382.90,172.01 L383.60,171.90 L384.30,171.52 L385.00,171.91 L385.70,171.90 L386.40,171.47 L387.10,171.73 L387.80,171.82 L388.50,171.70 L389.20,171.73 L389.90,171.59 L390.60,171.25 L391.30,171.74 L392.00,171.22 L392.70,171.02 L393.40,171.39 L394.10,170.86 L394.80,171.13 L395.50,170.70 L396.20,171.05 L396.90,171.01 L397.60,170.56 L398.30,170.71 L399.00,170.67 L399.70,170.42 L400.40,170.48 L401.10,170.28 L401.80,170.09 L402.50,169.94 L403.20,170.15 L403.90,170.13 L404.60,170.13 L405.30,169.98 L406.00,169.96 L406.70,169.67 L407.40,170.06 L408.10,169.45 L408.80,169.73 L409.50,169.47 L410.20,169.38 L410.90,169.83 L411.60,169.45 L412.30,169.04 L413.00,169.32 L413.70,169.10 L414.40,169.55 L415.10,168.93 L415.80,169.08 L416.50,168.92 L417.20,168.88 L417.90,169.13 L418.60,169.18 L419.30,169.18 L420.00,168.86 L420.70,168.73 L421.40,168.95 L422.10,168.72 L422.80,169.12 L423.50,168.46 L424.20,168.83 L424.90,168.45 L425.60,168.48 L426.30,168.33 L427.00,168.37 L427.70,168.74 L428.40,168.45 L429.10,168.35 L429.80,168.30 L430.50,168.34 L431.20,168.43 L431.90,168.69 L432.60,168.49 L433.30,168.45 L434.00,168.42 L434.70,168.58 L435.40,168.21 L436.10,168.46 L436.80,168.13 L437.50,168.12 L438.20,168.47 L438.90,168.32 L439.60,168.25 L440.30,168.06 L441.00,168.34 L441.70,168.69 L442.40,168.33 L443.10,168.31 L443.80,168.14 L444.50,168.40 L445.20,168.04 L445.90,168.74 L446.60,168.14 L447.30,168.09 L448.00,168.32 L448.70,167.80 L449.40,167.88 L450.10,167.86 L450.80,167.95 L451.50,168.36 L452.20,167.76 L452.90,168.48 L453.60,168.14 L454.30,168.25 L455.00,167.94 L455.70,167.55 L456.40,167.60 L457.10,168.11 L457.80,167.74 L458.50,167.86 L459.20,167.82 L459.90,168.05 L460.60,167.98 L461.30,167.74 L462.00,167.66 L462.70,167.81 L463.40,167.33 L464.10,167.37 L464.80,167.19 L465.50,167.22 L466.20,167.03 L466.90,167.44 L467.60,167.06 L468.30,167.30 L469.00,166.18 L469.70,166.03 L470.40,166.58 L471.10,167.31 L471.80,167.51 L472.50,167.34 L473.20,167.49 L473.90,167.25 L474.60,167.30 L475.30,167.20 L476.00,167.60 L476.70,167.21 L477.40,167.18 L478.10,167.61 L478.80,167.38 L479.50,167.11 L480.20,167.16 L480.90,167.27 L481.60,167.16 L482.30,167.38 L483.00,167.14 L483.70,167.13 L484.40,167.45 L485.10,167.41 L485.80,167.06 L486.50,166.45 L487.20,166.52 L487.90,166.38 L488.60,166.93 L489.30,166.78 L490.00,167.02 L490.70,167.50 L491.40,167.48 L492.10,167.33 L492.80,167.16 L493.50,167.38 L494.20,167.22 L494.90,167.94 L495.60,167.61 L496.30,167.85 L497.00,167.80 L497.70,167.65 L498.40,167.93 L499.10,168.00 L499.80,167.97 L500.50,168.04 L501.20,168.18 L501.90,167.96 L502.60,168.19 L503.30,168.16 L504.00,168.15 L504.70,168.38 L505.40,167.93 L506.10,168.14 L506.80,168.43 L507.50,168.84 L508.20,168.67 L508.90,168.43 L509.60,168.93 L510.30,168.69 L511.00,168.56 L511.70,168.72 L512.40,169.11 L513.10,169.00 L513.80,168.72 L514.50,168.70 L515.20,169.10 L515.90,168.78 L516.60,168.98 L517.30,169.30 L518.00,168.99 L518.70,169.11 L519.40,169.41 L520.10,169.38 L520.80,169.81 L521.50,169.62 L522.20,169.85 L522.90,169.96 L523.60,169.81 L524.30,170.23 L525.00,170.46 L525.70,170.28 L526.40,170.46 L527.10,170.96 L527.80,171.87 L528.50,172.22 L529.20,172.84 L529.90,173.41 L530.60,174.39 L531.30,174.88 L532.00,176.37 L532.70,177.11 L533.40,178.06 L534.10,179.38 L534.80,179.71 L535.50,179.75 L536.20,179.22 L536.90,179.20 L537.60,178.65 L538.30,178.15 L539.00,177.83 L539.70,177.24 L540.40,176.32 L541.10,176.04 L541.80,175.37 L542.50,175.05 L543.20,175.11 L543.90,174.97 L544.60,175.19 L545.30,174.88 L546.00,174.76 L546.70,174.75 L547.40,174.88 L548.10,174.32 L548.80,174.31 L549.50,174.42 L550.20,174.41 L550.90,174.27 L551.60,173.87 L552.30,173.41 L553.00,173.12 L553.70,173.38 L554.40,173.23 L555.10,173.35 L555.80,173.58 L556.50,173.40 L557.20,174.19 L557.90,174.18 L558.60,174.61 L559.30,175.04 L560.00,174.89 L560.70,176.00 L561.40,175.61 L562.10,176.08 L562.80,175.85 L563.50,175.80 L564.20,176.05 L564.90,176.16 L565.60,176.11 L566.30,176.08 L567.00,176.88 L567.70,176.68 L568.40,176.97 L569.10,177.31 L569.80,177.04 L570.50,177.26 L571.20,177.57 L571.90,177.52 L572.60,177.56 L573.30,177.38 L574.00,177.43 L574.70,177.82 L575.40,177.63 L576.10,177.86 L576.80,177.76 L577.50,177.59 L578.20,177.51 L578.90,177.24 L579.60,177.24 L580.30,176.32 L581.00,176.38 L581.70,176.37 L582.40,176.42 L583.10,175.48 L583.80,175.50 L584.50,175.51 L585.20,175.51 L585.90,174.96 L586.60,174.45 L587.30,174.78 L588.00,174.70 L588.70,174.45 L589.40,174.26 L590.10,174.10 L590.80,173.61 L591.50,173.68 L592.20,173.51 L592.90,173.03 L593.60,172.47 L594.30,172.15 L595.00,172.18 L595.70,171.98 L596.40,173.49 L597.10,175.08 L597.80,177.69 L598.50,181.89 L599.20,183.08 L599.90,184.31 L600.60,184.37 L601.30,182.95 L602.00,182.22 L602.70,182.02 L603.40,182.99 L604.10,183.43 L604.80,183.92 L605.50,184.10 L606.20,185.45 L606.90,186.17 L607.60,186.55 L608.30,187.05 L609.00,187.28 L609.70,187.33 L610.40,186.75 L611.10,186.25 L611.80,186.39 L612.50,188.30 L613.20,191.62 L613.90,194.18 L614.60,196.42 L615.30,197.64 L616.00,198.81 L616.70,199.39 L617.40,199.61 L618.10,199.66 L618.80,200.07 L619.50,200.00 L620.20,198.60 L620.90,196.63 L621.60,194.02 L622.30,189.62 L623.00,186.26 L623.70,185.04 L624.40,183.09 L625.10,182.61 L625.80,182.33 L626.50,181.90 L627.20,181.58 L627.90,181.66 L628.60,181.21 L629.30,180.90 L630.00,180.65 L630.70,179.79 L631.40,179.12 L632.10,178.73 L632.80,178.52 L633.50,177.51 L634.20,177.97 L634.90,178.09 L635.60,178.86 L636.30,179.55 L637.00,180.18 L637.70,180.23 L638.40,179.50 L639.10,178.82 L639.80,179.14 L640.50,179.17 L641.20,178.86 L641.90,179.48 L642.60,179.22 L643.30,179.68 L644.00,179.55 L644.70,180.20 L645.40,180.53 L646.10,181.12 L646.80,181.88 L647.50,182.49 L648.20,182.82 L648.90,184.12 L649.60,184.38 L650.30,184.84 L651.00,185.47 L651.70,185.94 L652.40,185.18 L653.10,184.72 L653.80,184.73 L654.50,185.04 L655.20,185.35 L655.90,185.74 L656.60,186.44 L657.30,187.36" fill="none" stroke="#0c8a0c" stroke-width="1.5" stroke-linejoin="round"/>
<path d="M360.50,210.51 L361.20,210.70 L361.90,210.77 L362.60,211.01 L363.30,211.37 L364.00,211.38 L364.70,211.29 L365.40,211.92 L366.10,212.31 L366.80,212.38 L367.50,213.13 L368.20,213.34 L368.90,213.14 L369.60,213.60 L370.30,213.55 L371.00,213.65 L371.70,213.49 L372.40,213.60 L373.10,213.55 L373.80,212.83 L374.50,213.27 L375.20,212.92 L375.90,212.98 L376.60,212.50 L377.30,211.86 L378.00,212.10 L378.70,211.98 L379.40,211.78 L380.10,211.48 L380.80,211.10 L381.50,210.98 L382.20,210.87 L382.90,210.69 L383.60,210.79 L384.30,210.73 L385.00,210.70 L385.70,210.49 L386.40,210.27 L387.10,210.33 L387.80,210.09 L388.50,209.78 L389.20,210.11 L389.90,209.82 L390.60,209.74 L391.30,209.95 L392.00,209.74 L392.70,209.71 L393.40,209.93 L394.10,209.70 L394.80,209.58 L395.50,209.37 L396.20,208.86 L396.90,208.71 L397.60,208.98 L398.30,209.64 L399.00,209.05 L399.70,208.94 L400.40,209.12 L401.10,209.20 L401.80,208.99 L402.50,208.99 L403.20,208.91 L403.90,208.71 L404.60,208.63 L405.30,208.22 L406.00,208.66 L406.70,208.63 L407.40,208.66 L408.10,208.78 L408.80,208.24 L409.50,208.24 L410.20,208.62 L410.90,208.08 L411.60,208.44 L412.30,208.37 L413.00,208.44 L413.70,208.12 L414.40,208.40 L415.10,207.99 L415.80,208.38 L416.50,208.18 L417.20,208.07 L417.90,208.16 L418.60,208.37 L419.30,207.85 L420.00,208.01 L420.70,207.76 L421.40,208.21 L422.10,208.13 L422.80,207.76 L423.50,207.88 L424.20,207.67 L424.90,207.90 L425.60,208.09 L426.30,207.73 L427.00,207.83 L427.70,207.46 L428.40,208.16 L429.10,207.52 L429.80,207.78 L430.50,207.66 L431.20,207.95 L431.90,207.65 L432.60,207.59 L433.30,207.38 L434.00,207.90 L434.70,207.25 L435.40,207.94 L436.10,207.86 L436.80,207.96 L437.50,207.35 L438.20,207.37 L438.90,207.54 L439.60,207.72 L440.30,207.24 L441.00,207.70 L441.70,207.17 L442.40,207.54 L443.10,207.37 L443.80,207.38 L444.50,207.30 L445.20,207.43 L445.90,206.88 L446.60,207.46 L447.30,207.09 L448.00,207.14 L448.70,206.99 L449.40,207.28 L450.10,207.19 L450.80,207.00 L451.50,206.86 L452.20,207.42 L452.90,206.95 L453.60,207.09 L454.30,206.88 L455.00,207.14 L455.70,207.17 L456.40,207.07 L457.10,207.16 L457.80,207.14 L458.50,206.28 L459.20,206.55 L459.90,206.39 L460.60,206.74 L461.30,206.62 L462.00,206.25 L462.70,206.80 L463.40,206.43 L464.10,206.69 L464.80,206.14 L465.50,206.40 L466.20,206.41 L466.90,205.96 L467.60,205.97 L468.30,205.70 L469.00,205.09 L469.70,205.02 L470.40,205.11 L471.10,206.08 L471.80,206.16 L472.50,206.03 L473.20,206.60 L473.90,206.18 L474.60,206.50 L475.30,207.14 L476.00,207.11 L476.70,206.95 L477.40,207.47 L478.10,207.13 L478.80,207.16 L479.50,207.18 L480.20,207.25 L480.90,207.14 L481.60,206.72 L482.30,206.72 L483.00,206.82 L483.70,206.82 L484.40,206.53 L485.10,206.56 L485.80,206.48 L486.50,206.02 L487.20,206.16 L487.90,206.67 L488.60,206.18 L489.30,206.44 L490.00,206.06 L490.70,207.06 L491.40,206.31 L492.10,206.69 L492.80,206.73 L493.50,206.35 L494.20,206.70 L494.90,207.04 L495.60,206.72 L496.30,207.12 L497.00,206.91 L497.70,207.30 L498.40,207.58 L499.10,206.92 L499.80,207.27 L500.50,207.09 L501.20,207.08 L501.90,207.32 L502.60,207.40 L503.30,207.49 L504.00,207.52 L504.70,206.98 L505.40,207.38 L506.10,207.06 L506.80,207.61 L507.50,207.76 L508.20,207.67 L508.90,207.53 L509.60,207.75 L510.30,207.87 L511.00,207.85 L511.70,207.65 L512.40,207.73 L513.10,208.12 L513.80,207.89 L514.50,207.98 L515.20,208.00 L515.90,208.17 L516.60,208.21 L517.30,208.09 L518.00,208.14 L518.70,208.22 L519.40,208.38 L520.10,208.55 L520.80,208.20 L521.50,208.91 L522.20,208.45 L522.90,208.79 L523.60,208.64 L524.30,208.87 L525.00,209.07 L525.70,209.33 L526.40,209.45 L527.10,209.83 L527.80,209.87 L528.50,210.60 L529.20,210.23 L529.90,210.90 L530.60,211.15 L531.30,211.14 L532.00,211.29 L532.70,211.10 L533.40,211.33 L534.10,211.11 L534.80,211.28 L535.50,211.12 L536.20,211.04 L536.90,210.80 L537.60,210.34 L538.30,210.38 L539.00,210.09 L539.70,209.55 L540.40,209.13 L541.10,209.04 L541.80,209.25 L542.50,208.51 L543.20,208.79 L543.90,208.49 L544.60,208.59 L545.30,208.00 L546.00,208.30 L546.70,207.89 L547.40,208.16 L548.10,208.37 L548.80,207.95 L549.50,208.43 L550.20,208.10 L550.90,208.34 L551.60,208.80 L552.30,208.67 L553.00,208.74 L553.70,208.31 L554.40,208.83 L555.10,209.28 L555.80,209.31 L556.50,209.64 L557.20,210.41 L557.90,210.51 L558.60,211.10 L559.30,212.01 L560.00,212.77 L560.70,212.59 L561.40,213.09 L562.10,213.40 L562.80,213.34 L563.50,213.46 L564.20,213.88 L564.90,213.71 L565.60,213.91 L566.30,214.61 L567.00,213.94 L567.70,214.93 L568.40,214.99 L569.10,214.75 L569.80,215.31 L570.50,215.29 L571.20,215.19 L571.90,215.39 L572.60,215.42 L573.30,215.93 L574.00,215.27 L574.70,215.11 L575.40,215.10 L576.10,214.81 L576.80,215.15 L577.50,214.32 L578.20,214.02 L578.90,213.78 L579.60,213.59 L580.30,213.18 L581.00,213.47 L581.70,213.16 L582.40,213.11 L583.10,213.31 L583.80,213.14 L584.50,212.96 L585.20,212.46 L585.90,212.51 L586.60,212.29 L587.30,212.19 L588.00,212.10 L588.70,211.89 L589.40,212.11 L590.10,211.61 L590.80,211.94 L591.50,211.60 L592.20,211.33 L592.90,211.28 L593.60,210.91 L594.30,210.57 L595.00,210.38 L595.70,209.73 L596.40,210.75 L597.10,211.80 L597.80,214.91 L598.50,218.80 L599.20,221.55 L599.90,221.78 L600.60,220.99 L601.30,220.73 L602.00,220.95 L602.70,222.07 L603.40,222.69 L604.10,223.57 L604.80,224.41 L605.50,225.02 L606.20,225.57 L606.90,226.23 L607.60,227.05 L608.30,227.81 L609.00,228.63 L609.70,227.47 L610.40,226.11 L611.10,226.18 L611.80,228.37 L612.50,231.44 L613.20,233.65 L613.90,235.85 L614.60,237.84 L615.30,239.88 L616.00,241.00 L616.70,242.13 L617.40,242.70 L618.10,243.12 L618.80,242.87 L619.50,241.92 L620.20,241.01 L620.90,238.10 L621.60,234.44 L622.30,231.43 L623.00,227.53 L623.70,224.90 L624.40,222.93 L625.10,222.19 L625.80,221.03 L626.50,220.58 L627.20,220.22 L627.90,220.15 L628.60,219.75 L629.30,219.36 L630.00,219.11 L630.70,218.31 L631.40,217.31 L632.10,217.03 L632.80,216.86 L633.50,216.26 L634.20,216.36 L634.90,216.29 L635.60,216.05 L636.30,216.81 L637.00,217.35 L637.70,218.49 L638.40,217.89 L639.10,217.46 L639.80,217.23 L640.50,217.23 L641.20,217.02 L641.90,217.36 L642.60,217.43 L643.30,218.13 L644.00,217.35 L644.70,217.96 L645.40,218.57 L646.10,219.64 L646.80,220.07 L647.50,221.05 L648.20,221.11 L648.90,222.42 L649.60,222.91 L650.30,223.52 L651.00,223.42 L651.70,223.07 L652.40,222.71 L653.10,221.82 L653.80,222.03 L654.50,222.27 L655.20,223.03 L655.90,223.32 L656.60,223.82 L657.30,225.69" fill="none" stroke="#fa0808" stroke-width="1.5" stroke-linejoin="round"/>
<line x1="549.4" y1="152.3" x2="549.4" y2="231" stroke="#111" stroke-width="1.2" stroke-dasharray="5 3.2"/>
<line x1="613.5" y1="167.7" x2="613.5" y2="246.4" stroke="#888" stroke-width="1.2" stroke-dasharray="5 3.2"/>
<line x1="534.6" y1="82" x2="547.9" y2="172.5" stroke="#0c8a0c" stroke-width="1.4"/>
<path d="M548.4,175.5 L545.7,169.6 L550.0,169.0 Z" fill="#0c8a0c"/>
<line x1="600.5" y1="88" x2="612" y2="220.5" stroke="#fa0808" stroke-width="1.4"/>
<path d="M612.4,224 L609.7,217.6 L614.1,217.2 Z" fill="#fa0808"/>
<text x="551.3" y="166.5" font-family="Liberation Serif, serif" font-size="9" fill="#222">1539 cm<tspan dy="-3.2" font-size="6">-1</tspan></text>
<text x="615.9" y="174.2" font-family="Liberation Serif, serif" font-size="9" fill="#222">1047 cm<tspan dy="-3.2" font-size="6">-1</tspan></text>
<text x="374.6" y="163.6" font-family="Liberation Serif, serif" font-size="11.6" fill="#222">PS-SPAA<tspan dy="2.6" font-size="7.5">130</tspan></text>
<text x="374.6" y="202.8" font-family="Liberation Serif, serif" font-size="11.6" fill="#222">PS</text>
<rect x="360.4" y="15.3" width="298.2" height="237.9" fill="none" stroke="#111" stroke-width="1.5"/>
<line x1="425.20" y1="253" x2="425.20" y2="248.2" stroke="#111" stroke-width="1.2"/>
<line x1="490.00" y1="253" x2="490.00" y2="248.2" stroke="#111" stroke-width="1.2"/>
<line x1="554.80" y1="253" x2="554.80" y2="248.2" stroke="#111" stroke-width="1.2"/>
<line x1="619.60" y1="253" x2="619.60" y2="248.2" stroke="#111" stroke-width="1.2"/>
<text x="360.10" y="269.4" text-anchor="middle" font-family="Liberation Serif, serif" font-size="14" fill="#111">3000</text>
<text x="424.90" y="269.4" text-anchor="middle" font-family="Liberation Serif, serif" font-size="14" fill="#111">2500</text>
<text x="489.70" y="269.4" text-anchor="middle" font-family="Liberation Serif, serif" font-size="14" fill="#111">2000</text>
<text x="554.50" y="269.4" text-anchor="middle" font-family="Liberation Serif, serif" font-size="14" fill="#111">1500</text>
<text x="619.30" y="269.4" text-anchor="middle" font-family="Liberation Serif, serif" font-size="14" fill="#111">1000</text>
<text x="509.5" y="290.6" text-anchor="middle" font-family="Liberation Serif, serif" font-size="16.3" fill="#111">Wavenumber (nm)</text>
</g>
<g id="panelC">
<path d="M37.00,565.00 L47.17,565.00 L133.66,367.20 L185.56,367.50 L247.83,505.60 L260.85,504.20 L291.38,504.40" fill="none" stroke="#111" stroke-width="1.2" stroke-linejoin="miter"/>
<path d="M37.00,357.08 L38.02,355.35 L39.03,353.76 L40.05,352.42 L41.07,351.41 L42.09,350.83 L43.11,350.51 L44.12,350.23 L45.14,350.02 L46.16,349.88 L47.17,349.83 L48.19,350.26 L49.21,351.40 L50.23,353.00 L51.25,354.83 L52.26,356.65 L53.28,358.60 L54.30,360.88 L55.31,363.40 L56.33,366.05 L57.35,368.72 L58.37,371.51 L59.39,374.50 L60.40,377.56 L61.42,380.56 L62.44,383.35 L63.45,385.96 L64.47,388.49 L65.49,390.92 L66.51,393.23 L67.53,395.42 L68.54,397.57 L69.56,399.71 L70.58,401.72 L71.59,403.45 L72.61,404.79 L73.63,405.88 L74.65,406.92 L75.67,407.79 L76.68,408.40 L77.70,408.62 L78.72,408.44 L79.73,407.97 L80.75,407.28 L81.77,406.48 L82.79,405.64 L83.81,404.42 L84.82,402.70 L85.84,400.92 L86.86,399.53 L87.88,398.97 L88.89,399.01 L89.91,399.14 L90.93,399.34 L91.95,399.62 L92.96,399.96 L93.98,401.26 L95.00,404.04 L96.02,407.77 L97.03,411.89 L98.05,415.86 L99.07,419.88 L100.09,424.34 L101.10,429.04 L102.12,433.77 L103.14,438.30 L104.16,442.72 L105.17,447.16 L106.19,451.53 L107.21,455.71 L108.22,459.60 L109.24,463.21 L110.26,466.62 L111.28,469.88 L112.30,473.02 L113.31,476.07 L114.33,479.06 L115.35,481.96 L116.37,484.76 L117.38,487.44 L118.40,489.99 L119.42,492.40 L120.44,494.72 L121.45,496.94 L122.47,499.05 L123.49,501.06 L124.50,502.99 L125.52,504.85 L126.54,506.62 L127.56,508.29 L128.57,509.87 L129.59,511.35 L130.61,512.76 L131.63,514.10 L132.65,515.36 L133.66,516.54 L134.68,517.67 L135.70,518.76 L136.72,519.79 L137.73,520.71 L138.75,521.51 L139.77,522.20 L140.79,522.81 L141.80,523.36 L142.82,523.87 L143.84,524.35 L144.86,524.82 L145.87,525.29 L146.89,525.71 L147.91,526.07 L148.93,526.34 L149.94,526.53 L150.96,526.68 L151.98,526.81 L153.00,526.93 L154.01,527.05 L155.03,527.17 L156.05,527.27 L157.06,527.37 L158.08,527.48 L159.10,527.62 L160.12,527.81 L161.14,528.04 L162.15,528.30 L163.17,528.55 L164.19,528.75 L165.21,528.92 L166.22,529.07 L167.24,529.21 L168.26,529.34 L169.28,529.46 L170.29,529.58 L171.31,529.71 L172.33,529.84 L173.34,529.97 L174.36,530.09 L175.38,530.22 L176.40,530.34 L177.42,530.45 L178.43,530.55 L179.45,530.65 L180.47,530.73 L181.49,530.79 L182.50,530.84 L183.52,530.87 L184.54,530.88 L185.56,530.87 L186.57,530.83 L187.59,530.77 L188.61,530.69 L189.62,530.59 L190.64,530.47 L191.66,530.33 L192.68,530.18 L193.69,530.02 L194.71,529.85 L195.73,529.67 L196.75,529.48 L197.77,529.29 L198.78,529.09 L199.80,528.90 L200.82,528.68 L201.83,528.43 L202.85,528.16 L203.87,527.85 L204.89,527.51 L205.91,527.15 L206.92,526.76 L207.94,526.36 L208.96,525.93 L209.97,525.49 L210.99,525.00 L212.01,524.43 L213.03,523.81 L214.05,523.14 L215.06,522.44 L216.08,521.71 L217.10,520.97 L218.12,520.24 L219.13,519.51 L220.15,518.81 L221.17,518.14 L222.19,517.47 L223.20,516.80 L224.22,516.12 L225.24,515.45 L226.26,514.76 L227.27,514.06 L228.29,513.35 L229.31,512.61 L230.32,511.86 L231.34,511.07 L232.36,510.27 L233.38,509.45 L234.40,508.61 L235.41,507.75 L236.43,506.87 L237.45,505.97 L238.47,505.06 L239.48,504.14 L240.50,503.19 L241.52,502.19 L242.54,501.10 L243.55,499.95 L244.57,498.76 L245.59,497.58 L246.61,496.43 L247.62,495.33 L248.64,494.32 L249.66,493.43 L250.68,492.69 L251.69,492.03 L252.71,491.38 L253.73,490.76 L254.75,490.17 L255.76,489.63 L256.78,489.13 L257.80,488.70 L258.81,488.33 L259.83,488.05 L260.85,487.86 L261.87,487.72 L262.89,487.59 L263.90,487.47 L264.92,487.36 L265.94,487.27 L266.96,487.19 L267.97,487.12 L268.99,487.07 L270.01,487.03 L271.02,487.01 L272.04,486.99 L273.06,486.98 L274.08,486.97 L275.10,486.95 L276.11,486.94 L277.13,486.93 L278.15,486.92 L279.17,486.91 L280.18,486.91 L281.20,486.90 L282.22,486.89 L283.24,486.89 L284.25,486.88 L285.27,486.88 L286.29,486.87 L287.31,486.87 L288.32,486.87 L289.34,486.87 L290.36,486.86 L291.38,486.86" fill="none" stroke="#e8b030" stroke-width="1.1"/>
<g fill="#e8b030"><circle cx="37.00" cy="357.08" r="2.4"/><circle cx="42.09" cy="350.83" r="2.4"/><circle cx="47.17" cy="349.83" r="2.4"/><circle cx="52.26" cy="356.65" r="2.4"/><circle cx="57.35" cy="368.72" r="2.4"/><circle cx="62.44" cy="383.35" r="2.4"/><circle cx="67.53" cy="395.42" r="2.4"/><circle cx="72.61" cy="404.79" r="2.4"/><circle cx="77.70" cy="408.62" r="2.4"/><circle cx="82.79" cy="405.64" r="2.4"/><circle cx="87.88" cy="398.97" r="2.4"/><circle cx="92.96" cy="399.96" r="2.4"/><circle cx="98.05" cy="415.86" r="2.4"/><circle cx="103.14" cy="438.30" r="2.4"/><circle cx="108.22" cy="459.60" r="2.4"/><circle cx="113.31" cy="476.07" r="2.4"/><circle cx="118.40" cy="489.99" r="2.4"/><circle cx="123.49" cy="501.06" r="2.4"/><circle cx="128.57" cy="509.87" r="2.4"/><circle cx="133.66" cy="516.54" r="2.4"/><circle cx="138.75" cy="521.51" r="2.4"/><circle cx="143.84" cy="524.35" r="2.4"/><circle cx="148.93" cy="526.34" r="2.4"/><circle cx="154.01" cy="527.05" r="2.4"/><circle cx="159.10" cy="527.62" r="2.4"/><circle cx="164.19" cy="528.75" r="2.4"/><circle cx="169.28" cy="529.46" r="2.4"/><circle cx="174.36" cy="530.09" r="2.4"/><circle cx="179.45" cy="530.65" r="2.4"/><circle cx="184.54" cy="530.88" r="2.4"/><circle cx="189.62" cy="530.59" r="2.4"/><circle cx="194.71" cy="529.85" r="2.4"/><circle cx="199.80" cy="528.90" r="2.4"/><circle cx="204.89" cy="527.51" r="2.4"/><circle cx="209.97" cy="525.49" r="2.4"/><circle cx="215.06" cy="522.44" r="2.4"/><circle cx="220.15" cy="518.81" r="2.4"/><circle cx="225.24" cy="515.45" r="2.4"/><circle cx="230.32" cy="511.86" r="2.4"/><circle cx="235.41" cy="507.75" r="2.4"/><circle cx="240.50" cy="503.19" r="2.4"/><circle cx="245.59" cy="497.58" r="2.4"/><circle cx="250.68" cy="492.69" r="2.4"/><circle cx="255.76" cy="489.63" r="2.4"/><circle cx="260.85" cy="487.86" r="2.4"/><circle cx="265.94" cy="487.27" r="2.4"/><circle cx="271.02" cy="487.01" r="2.4"/><circle cx="276.11" cy="486.94" r="2.4"/><circle cx="281.20" cy="486.90" r="2.4"/><circle cx="286.29" cy="486.87" r="2.4"/><circle cx="291.38" cy="486.86" r="2.4"/></g>
<path d="M37.00,553.46 L38.02,553.53 L39.03,553.59 L40.05,553.65 L41.07,553.71 L42.09,553.77 L43.11,553.82 L44.12,553.88 L45.14,553.93 L46.16,553.98 L47.17,554.03 L48.19,554.08 L49.21,554.14 L50.23,554.19 L51.25,554.25 L52.26,554.30 L53.28,554.35 L54.30,554.39 L55.31,554.43 L56.33,554.45 L57.35,554.46 L58.37,554.45 L59.39,554.45 L60.40,554.44 L61.42,554.43 L62.44,554.42 L63.45,554.40 L64.47,554.38 L65.49,554.36 L66.51,554.34 L67.53,554.31 L68.54,554.26 L69.56,554.15 L70.58,553.99 L71.59,553.79 L72.61,553.56 L73.63,553.30 L74.65,553.03 L75.67,552.75 L76.68,552.46 L77.70,552.18 L78.72,551.89 L79.73,551.55 L80.75,551.18 L81.77,550.78 L82.79,550.37 L83.81,549.95 L84.82,549.53 L85.84,549.12 L86.86,548.72 L87.88,548.35 L88.89,547.94 L89.91,547.49 L90.93,547.07 L91.95,546.77 L92.96,546.65 L93.98,546.67 L95.00,546.73 L96.02,546.82 L97.03,546.93 L98.05,547.07 L99.07,547.34 L100.09,547.81 L101.10,548.39 L102.12,549.03 L103.14,549.63 L104.16,550.22 L105.17,550.84 L106.19,551.49 L107.21,552.13 L108.22,552.75 L109.24,553.37 L110.26,553.99 L111.28,554.63 L112.30,555.26 L113.31,555.88 L114.33,556.49 L115.35,557.07 L116.37,557.61 L117.38,558.12 L118.40,558.57 L119.42,559.00 L120.44,559.41 L121.45,559.80 L122.47,560.17 L123.49,560.53 L124.50,560.87 L125.52,561.18 L126.54,561.47 L127.56,561.74 L128.57,561.98 L129.59,562.20 L130.61,562.41 L131.63,562.60 L132.65,562.78 L133.66,562.95 L134.68,563.11 L135.70,563.26 L136.72,563.41 L137.73,563.55 L138.75,563.69 L139.77,563.82 L140.79,563.95 L141.80,564.08 L142.82,564.20 L143.84,564.33 L144.86,564.45 L145.87,564.57 L146.89,564.68 L147.91,564.79 L148.93,564.90 L149.94,565.01 L150.96,565.11 L151.98,565.21 L153.00,565.31 L154.01,565.40 L155.03,565.49 L156.05,565.58 L157.06,565.66 L158.08,565.74 L159.10,565.82 L160.12,565.89 L161.14,565.97 L162.15,566.04 L163.17,566.12 L164.19,566.19 L165.21,566.26 L166.22,566.34 L167.24,566.41 L168.26,566.47 L169.28,566.54 L170.29,566.60 L171.31,566.66 L172.33,566.71 L173.34,566.76 L174.36,566.81 L175.38,566.85 L176.40,566.88 L177.42,566.91 L178.43,566.94 L179.45,566.95 L180.47,566.96 L181.49,566.98 L182.50,566.99 L183.52,567.00 L184.54,567.01 L185.56,567.02 L186.57,567.03 L187.59,567.04 L188.61,567.05 L189.62,567.05 L190.64,567.06 L191.66,567.07 L192.68,567.07 L193.69,567.08 L194.71,567.08 L195.73,567.09 L196.75,567.09 L197.77,567.09 L198.78,567.09 L199.80,567.09 L200.82,567.08 L201.83,567.05 L202.85,567.00 L203.87,566.94 L204.89,566.86 L205.91,566.76 L206.92,566.65 L207.94,566.53 L208.96,566.40 L209.97,566.26 L210.99,566.11 L212.01,565.96 L213.03,565.80 L214.05,565.64 L215.06,565.47 L216.08,565.31 L217.10,565.15 L218.12,564.99 L219.13,564.83 L220.15,564.68 L221.17,564.53 L222.19,564.36 L223.20,564.18 L224.22,563.99 L225.24,563.79 L226.26,563.59 L227.27,563.38 L228.29,563.17 L229.31,562.95 L230.32,562.73 L231.34,562.52 L232.36,562.31 L233.38,562.10 L234.40,561.89 L235.41,561.69 L236.43,561.50 L237.45,561.32 L238.47,561.15 L239.48,560.99 L240.50,560.85 L241.52,560.71 L242.54,560.57 L243.55,560.42 L244.57,560.28 L245.59,560.14 L246.61,560.00 L247.62,559.86 L248.64,559.72 L249.66,559.59 L250.68,559.46 L251.69,559.34 L252.71,559.23 L253.73,559.13 L254.75,559.03 L255.76,558.95 L256.78,558.87 L257.80,558.81 L258.81,558.77 L259.83,558.73 L260.85,558.72 L261.87,558.71 L262.89,558.70 L263.90,558.69 L264.92,558.68 L265.94,558.67 L266.96,558.66 L267.97,558.66 L268.99,558.65 L270.01,558.64 L271.02,558.64 L272.04,558.63 L273.06,558.62 L274.08,558.62 L275.10,558.61 L276.11,558.61 L277.13,558.60 L278.15,558.60 L279.17,558.60 L280.18,558.59 L281.20,558.59 L282.22,558.59 L283.24,558.58 L284.25,558.58 L285.27,558.58 L286.29,558.58 L287.31,558.58 L288.32,558.58 L289.34,558.57 L290.36,558.57 L291.38,558.57" fill="none" stroke="#111111" stroke-width="1.1"/>
<g fill="#111111"><circle cx="37.00" cy="553.46" r="2.2"/><circle cx="42.09" cy="553.77" r="2.2"/><circle cx="47.17" cy="554.03" r="2.2"/><circle cx="52.26" cy="554.30" r="2.2"/><circle cx="57.35" cy="554.46" r="2.2"/><circle cx="62.44" cy="554.42" r="2.2"/><circle cx="67.53" cy="554.31" r="2.2"/><circle cx="72.61" cy="553.56" r="2.2"/><circle cx="77.70" cy="552.18" r="2.2"/><circle cx="82.79" cy="550.37" r="2.2"/><circle cx="87.88" cy="548.35" r="2.2"/><circle cx="92.96" cy="546.65" r="2.2"/><circle cx="98.05" cy="547.07" r="2.2"/><circle cx="103.14" cy="549.63" r="2.2"/><circle cx="108.22" cy="552.75" r="2.2"/><circle cx="113.31" cy="555.88" r="2.2"/><circle cx="118.40" cy="558.57" r="2.2"/><circle cx="123.49" cy="560.53" r="2.2"/><circle cx="128.57" cy="561.98" r="2.2"/><circle cx="133.66" cy="562.95" r="2.2"/><circle cx="138.75" cy="563.69" r="2.2"/><circle cx="143.84" cy="564.33" r="2.2"/><circle cx="148.93" cy="564.90" r="2.2"/><circle cx="154.01" cy="565.40" r="2.2"/><circle cx="159.10" cy="565.82" r="2.2"/><circle cx="164.19" cy="566.19" r="2.2"/><circle cx="169.28" cy="566.54" r="2.2"/><circle cx="174.36" cy="566.81" r="2.2"/><circle cx="179.45" cy="566.95" r="2.2"/><circle cx="184.54" cy="567.01" r="2.2"/><circle cx="189.62" cy="567.05" r="2.2"/><circle cx="194.71" cy="567.08" r="2.2"/><circle cx="199.80" cy="567.09" r="2.2"/><circle cx="204.89" cy="566.86" r="2.2"/><circle cx="209.97" cy="566.26" r="2.2"/><circle cx="215.06" cy="565.47" r="2.2"/><circle cx="220.15" cy="564.68" r="2.2"/><circle cx="225.24" cy="563.79" r="2.2"/><circle cx="230.32" cy="562.73" r="2.2"/><circle cx="235.41" cy="561.69" r="2.2"/><circle cx="240.50" cy="560.85" r="2.2"/><circle cx="245.59" cy="560.14" r="2.2"/><circle cx="250.68" cy="559.46" r="2.2"/><circle cx="255.76" cy="558.95" r="2.2"/><circle cx="260.85" cy="558.72" r="2.2"/><circle cx="265.94" cy="558.67" r="2.2"/><circle cx="271.02" cy="558.64" r="2.2"/><circle cx="276.11" cy="558.61" r="2.2"/><circle cx="281.20" cy="558.59" r="2.2"/><circle cx="286.29" cy="558.58" r="2.2"/><circle cx="291.38" cy="558.57" r="2.2"/></g>
<path d="M37.00,537.27 L38.02,537.39 L39.03,537.52 L40.05,537.66 L41.07,537.82 L42.09,537.99 L43.11,538.17 L44.12,538.36 L45.14,538.56 L46.16,538.76 L47.17,538.98 L48.19,539.21 L49.21,539.46 L50.23,539.74 L51.25,540.03 L52.26,540.34 L53.28,540.66 L54.30,540.98 L55.31,541.31 L56.33,541.64 L57.35,541.96 L58.37,542.29 L59.39,542.63 L60.40,542.98 L61.42,543.34 L62.44,543.70 L63.45,544.05 L64.47,544.40 L65.49,544.74 L66.51,545.06 L67.53,545.37 L68.54,545.68 L69.56,546.01 L70.58,546.35 L71.59,546.69 L72.61,547.01 L73.63,547.30 L74.65,547.56 L75.67,547.75 L76.68,547.88 L77.70,547.92 L78.72,547.91 L79.73,547.88 L80.75,547.83 L81.77,547.76 L82.79,547.67 L83.81,547.57 L84.82,547.46 L85.84,547.34 L86.86,547.21 L87.88,547.07 L88.89,546.89 L89.91,546.64 L90.93,546.33 L91.95,545.97 L92.96,545.57 L93.98,545.14 L95.00,544.70 L96.02,544.25 L97.03,543.80 L98.05,543.38 L99.07,542.88 L100.09,542.28 L101.10,541.71 L102.12,541.28 L103.14,541.11 L104.16,541.14 L105.17,541.23 L106.19,541.35 L107.21,541.51 L108.22,541.68 L109.24,541.90 L110.26,542.22 L111.28,542.62 L112.30,543.09 L113.31,543.61 L114.33,544.15 L115.35,544.72 L116.37,545.29 L117.38,545.84 L118.40,546.36 L119.42,546.88 L120.44,547.44 L121.45,548.02 L122.47,548.61 L123.49,549.21 L124.50,549.79 L125.52,550.34 L126.54,550.87 L127.56,551.34 L128.57,551.76 L129.59,552.13 L130.61,552.48 L131.63,552.82 L132.65,553.13 L133.66,553.43 L134.68,553.71 L135.70,553.99 L136.72,554.25 L137.73,554.50 L138.75,554.74 L139.77,554.98 L140.79,555.21 L141.80,555.44 L142.82,555.66 L143.84,555.88 L144.86,556.10 L145.87,556.31 L146.89,556.52 L147.91,556.72 L148.93,556.91 L149.94,557.10 L150.96,557.29 L151.98,557.47 L153.00,557.64 L154.01,557.81 L155.03,557.98 L156.05,558.14 L157.06,558.29 L158.08,558.43 L159.10,558.57 L160.12,558.71 L161.14,558.85 L162.15,558.99 L163.17,559.13 L164.19,559.27 L165.21,559.41 L166.22,559.54 L167.24,559.67 L168.26,559.80 L169.28,559.92 L170.29,560.04 L171.31,560.14 L172.33,560.25 L173.34,560.34 L174.36,560.43 L175.38,560.51 L176.40,560.57 L177.42,560.63 L178.43,560.67 L179.45,560.70 L180.47,560.73 L181.49,560.75 L182.50,560.78 L183.52,560.80 L184.54,560.82 L185.56,560.84 L186.57,560.86 L187.59,560.88 L188.61,560.89 L189.62,560.91 L190.64,560.92 L191.66,560.94 L192.68,560.95 L193.69,560.96 L194.71,560.97 L195.73,560.97 L196.75,560.98 L197.77,560.98 L198.78,560.99 L199.80,560.99 L200.82,560.98 L201.83,560.95 L202.85,560.90 L203.87,560.84 L204.89,560.77 L205.91,560.68 L206.92,560.58 L207.94,560.46 L208.96,560.34 L209.97,560.21 L210.99,560.07 L212.01,559.93 L213.03,559.78 L214.05,559.63 L215.06,559.47 L216.08,559.32 L217.10,559.16 L218.12,559.01 L219.13,558.86 L220.15,558.72 L221.17,558.57 L222.19,558.41 L223.20,558.23 L224.22,558.05 L225.24,557.86 L226.26,557.66 L227.27,557.46 L228.29,557.25 L229.31,557.04 L230.32,556.83 L231.34,556.61 L232.36,556.40 L233.38,556.19 L234.40,555.98 L235.41,555.78 L236.43,555.58 L237.45,555.39 L238.47,555.21 L239.48,555.04 L240.50,554.88 L241.52,554.73 L242.54,554.57 L243.55,554.40 L244.57,554.24 L245.59,554.07 L246.61,553.90 L247.62,553.74 L248.64,553.58 L249.66,553.42 L250.68,553.27 L251.69,553.12 L252.71,552.99 L253.73,552.86 L254.75,552.74 L255.76,552.63 L256.78,552.54 L257.80,552.46 L258.81,552.40 L259.83,552.35 L260.85,552.33 L261.87,552.31 L262.89,552.29 L263.90,552.27 L264.92,552.26 L265.94,552.24 L266.96,552.22 L267.97,552.21 L268.99,552.20 L270.01,552.18 L271.02,552.17 L272.04,552.16 L273.06,552.15 L274.08,552.13 L275.10,552.12 L276.11,552.11 L277.13,552.10 L278.15,552.10 L279.17,552.09 L280.18,552.08 L281.20,552.07 L282.22,552.07 L283.24,552.06 L284.25,552.06 L285.27,552.05 L286.29,552.05 L287.31,552.05 L288.32,552.04 L289.34,552.04 L290.36,552.04 L291.38,552.04" fill="none" stroke="#f01010" stroke-width="1.1"/>
<g fill="#f01010"><circle cx="37.00" cy="537.27" r="2.2"/><circle cx="42.09" cy="537.99" r="2.2"/><circle cx="47.17" cy="538.98" r="2.2"/><circle cx="52.26" cy="540.34" r="2.2"/><circle cx="57.35" cy="541.96" r="2.2"/><circle cx="62.44" cy="543.70" r="2.2"/><circle cx="67.53" cy="545.37" r="2.2"/><circle cx="72.61" cy="547.01" r="2.2"/><circle cx="77.70" cy="547.92" r="2.2"/><circle cx="82.79" cy="547.67" r="2.2"/><circle cx="87.88" cy="547.07" r="2.2"/><circle cx="92.96" cy="545.57" r="2.2"/><circle cx="98.05" cy="543.38" r="2.2"/><circle cx="103.14" cy="541.11" r="2.2"/><circle cx="108.22" cy="541.68" r="2.2"/><circle cx="113.31" cy="543.61" r="2.2"/><circle cx="118.40" cy="546.36" r="2.2"/><circle cx="123.49" cy="549.21" r="2.2"/><circle cx="128.57" cy="551.76" r="2.2"/><circle cx="133.66" cy="553.43" r="2.2"/><circle cx="138.75" cy="554.74" r="2.2"/><circle cx="143.84" cy="555.88" r="2.2"/><circle cx="148.93" cy="556.91" r="2.2"/><circle cx="154.01" cy="557.81" r="2.2"/><circle cx="159.10" cy="558.57" r="2.2"/><circle cx="164.19" cy="559.27" r="2.2"/><circle cx="169.28" cy="559.92" r="2.2"/><circle cx="174.36" cy="560.43" r="2.2"/><circle cx="179.45" cy="560.70" r="2.2"/><circle cx="184.54" cy="560.82" r="2.2"/><circle cx="189.62" cy="560.91" r="2.2"/><circle cx="194.71" cy="560.97" r="2.2"/><circle cx="199.80" cy="560.99" r="2.2"/><circle cx="204.89" cy="560.77" r="2.2"/><circle cx="209.97" cy="560.21" r="2.2"/><circle cx="215.06" cy="559.47" r="2.2"/><circle cx="220.15" cy="558.72" r="2.2"/><circle cx="225.24" cy="557.86" r="2.2"/><circle cx="230.32" cy="556.83" r="2.2"/><circle cx="235.41" cy="555.78" r="2.2"/><circle cx="240.50" cy="554.88" r="2.2"/><circle cx="245.59" cy="554.07" r="2.2"/><circle cx="250.68" cy="553.27" r="2.2"/><circle cx="255.76" cy="552.63" r="2.2"/><circle cx="260.85" cy="552.33" r="2.2"/><circle cx="265.94" cy="552.24" r="2.2"/><circle cx="271.02" cy="552.17" r="2.2"/><circle cx="276.11" cy="552.11" r="2.2"/><circle cx="281.20" cy="552.07" r="2.2"/><circle cx="286.29" cy="552.05" r="2.2"/><circle cx="291.38" cy="552.04" r="2.2"/></g>
<path d="M37.00,533.01 L38.02,533.02 L39.03,533.04 L40.05,533.08 L41.07,533.12 L42.09,533.18 L43.11,533.24 L44.12,533.32 L45.14,533.40 L46.16,533.49 L47.17,533.58 L48.19,533.72 L49.21,533.92 L50.23,534.18 L51.25,534.49 L52.26,534.84 L53.28,535.22 L54.30,535.62 L55.31,536.03 L56.33,536.44 L57.35,536.85 L58.37,537.28 L59.39,537.76 L60.40,538.28 L61.42,538.83 L62.44,539.39 L63.45,539.95 L64.47,540.51 L65.49,541.03 L66.51,541.52 L67.53,541.96 L68.54,542.38 L69.56,542.81 L70.58,543.25 L71.59,543.68 L72.61,544.08 L73.63,544.45 L74.65,544.78 L75.67,545.05 L76.68,545.25 L77.70,545.37 L78.72,545.44 L79.73,545.51 L80.75,545.57 L81.77,545.63 L82.79,545.68 L83.81,545.72 L84.82,545.75 L85.84,545.77 L86.86,545.79 L87.88,545.79 L88.89,545.72 L89.91,545.52 L90.93,545.20 L91.95,544.80 L92.96,544.35 L93.98,543.85 L95.00,543.34 L96.02,542.84 L97.03,542.37 L98.05,541.96 L99.07,541.53 L100.09,541.04 L101.10,540.58 L102.12,540.25 L103.14,540.11 L104.16,540.12 L105.17,540.14 L106.19,540.17 L107.21,540.21 L108.22,540.26 L109.24,540.37 L110.26,540.61 L111.28,540.95 L112.30,541.38 L113.31,541.87 L114.33,542.39 L115.35,542.94 L116.37,543.49 L117.38,544.02 L118.40,544.52 L119.42,545.00 L120.44,545.52 L121.45,546.06 L122.47,546.61 L123.49,547.17 L124.50,547.72 L125.52,548.25 L126.54,548.75 L127.56,549.21 L128.57,549.63 L129.59,550.01 L130.61,550.38 L131.63,550.73 L132.65,551.07 L133.66,551.40 L134.68,551.70 L135.70,551.99 L136.72,552.27 L137.73,552.52 L138.75,552.75 L139.77,552.97 L140.79,553.18 L141.80,553.39 L142.82,553.59 L143.84,553.78 L144.86,553.97 L145.87,554.15 L146.89,554.33 L147.91,554.50 L148.93,554.66 L149.94,554.82 L150.96,554.97 L151.98,555.12 L153.00,555.26 L154.01,555.40 L155.03,555.53 L156.05,555.66 L157.06,555.79 L158.08,555.90 L159.10,556.02 L160.12,556.13 L161.14,556.25 L162.15,556.36 L163.17,556.48 L164.19,556.60 L165.21,556.72 L166.22,556.83 L167.24,556.94 L168.26,557.05 L169.28,557.15 L170.29,557.25 L171.31,557.34 L172.33,557.42 L173.34,557.50 L174.36,557.56 L175.38,557.62 L176.40,557.66 L177.42,557.69 L178.43,557.71 L179.45,557.72 L180.47,557.72 L181.49,557.72 L182.50,557.72 L183.52,557.72 L184.54,557.72 L185.56,557.72 L186.57,557.72 L187.59,557.72 L188.61,557.72 L189.62,557.72 L190.64,557.72 L191.66,557.72 L192.68,557.72 L193.69,557.72 L194.71,557.72 L195.73,557.72 L196.75,557.72 L197.77,557.72 L198.78,557.72 L199.80,557.72 L200.82,557.71 L201.83,557.66 L202.85,557.59 L203.87,557.49 L204.89,557.36 L205.91,557.22 L206.92,557.05 L207.94,556.87 L208.96,556.67 L209.97,556.46 L210.99,556.23 L212.01,556.00 L213.03,555.76 L214.05,555.51 L215.06,555.26 L216.08,555.01 L217.10,554.76 L218.12,554.51 L219.13,554.27 L220.15,554.03 L221.17,553.79 L222.19,553.52 L223.20,553.24 L224.22,552.94 L225.24,552.62 L226.26,552.30 L227.27,551.96 L228.29,551.62 L229.31,551.27 L230.32,550.92 L231.34,550.57 L232.36,550.22 L233.38,549.88 L234.40,549.54 L235.41,549.21 L236.43,548.89 L237.45,548.59 L238.47,548.30 L239.48,548.03 L240.50,547.78 L241.52,547.54 L242.54,547.30 L243.55,547.05 L244.57,546.81 L245.59,546.56 L246.61,546.32 L247.62,546.08 L248.64,545.85 L249.66,545.62 L250.68,545.40 L251.69,545.19 L252.71,544.99 L253.73,544.80 L254.75,544.63 L255.76,544.47 L256.78,544.33 L257.80,544.20 L258.81,544.10 L259.83,544.01 L260.85,543.95 L261.87,543.90 L262.89,543.85 L263.90,543.80 L264.92,543.75 L265.94,543.70 L266.96,543.66 L267.97,543.62 L268.99,543.57 L270.01,543.53 L271.02,543.50 L272.04,543.46 L273.06,543.42 L274.08,543.39 L275.10,543.36 L276.11,543.33 L277.13,543.30 L278.15,543.27 L279.17,543.25 L280.18,543.22 L281.20,543.20 L282.22,543.18 L283.24,543.16 L284.25,543.15 L285.27,543.13 L286.29,543.12 L287.31,543.11 L288.32,543.11 L289.34,543.10 L290.36,543.10 L291.38,543.10" fill="none" stroke="#1010d0" stroke-width="1.1"/>
<g fill="#1010d0"><circle cx="37.00" cy="533.01" r="2.2"/><circle cx="42.09" cy="533.18" r="2.2"/><circle cx="47.17" cy="533.58" r="2.2"/><circle cx="52.26" cy="534.84" r="2.2"/><circle cx="57.35" cy="536.85" r="2.2"/><circle cx="62.44" cy="539.39" r="2.2"/><circle cx="67.53" cy="541.96" r="2.2"/><circle cx="72.61" cy="544.08" r="2.2"/><circle cx="77.70" cy="545.37" r="2.2"/><circle cx="82.79" cy="545.68" r="2.2"/><circle cx="87.88" cy="545.79" r="2.2"/><circle cx="92.96" cy="544.35" r="2.2"/><circle cx="98.05" cy="541.96" r="2.2"/><circle cx="103.14" cy="540.11" r="2.2"/><circle cx="108.22" cy="540.26" r="2.2"/><circle cx="113.31" cy="541.87" r="2.2"/><circle cx="118.40" cy="544.52" r="2.2"/><circle cx="123.49" cy="547.17" r="2.2"/><circle cx="128.57" cy="549.63" r="2.2"/><circle cx="133.66" cy="551.40" r="2.2"/><circle cx="138.75" cy="552.75" r="2.2"/><circle cx="143.84" cy="553.78" r="2.2"/><circle cx="148.93" cy="554.66" r="2.2"/><circle cx="154.01" cy="555.40" r="2.2"/><circle cx="159.10" cy="556.02" r="2.2"/><circle cx="164.19" cy="556.60" r="2.2"/><circle cx="169.28" cy="557.15" r="2.2"/><circle cx="174.36" cy="557.56" r="2.2"/><circle cx="179.45" cy="557.72" r="2.2"/><circle cx="184.54" cy="557.72" r="2.2"/><circle cx="189.62" cy="557.72" r="2.2"/><circle cx="194.71" cy="557.72" r="2.2"/><circle cx="199.80" cy="557.72" r="2.2"/><circle cx="204.89" cy="557.36" r="2.2"/><circle cx="209.97" cy="556.46" r="2.2"/><circle cx="215.06" cy="555.26" r="2.2"/><circle cx="220.15" cy="554.03" r="2.2"/><circle cx="225.24" cy="552.62" r="2.2"/><circle cx="230.32" cy="550.92" r="2.2"/><circle cx="235.41" cy="549.21" r="2.2"/><circle cx="240.50" cy="547.78" r="2.2"/><circle cx="245.59" cy="546.56" r="2.2"/><circle cx="250.68" cy="545.40" r="2.2"/><circle cx="255.76" cy="544.47" r="2.2"/><circle cx="260.85" cy="543.95" r="2.2"/><circle cx="265.94" cy="543.70" r="2.2"/><circle cx="271.02" cy="543.50" r="2.2"/><circle cx="276.11" cy="543.33" r="2.2"/><circle cx="281.20" cy="543.20" r="2.2"/><circle cx="286.29" cy="543.12" r="2.2"/><circle cx="291.38" cy="543.10" r="2.2"/></g>
<path d="M37.00,544.94 L38.02,545.06 L39.03,545.19 L40.05,545.33 L41.07,545.49 L42.09,545.66 L43.11,545.84 L44.12,546.03 L45.14,546.23 L46.16,546.43 L47.17,546.65 L48.19,546.88 L49.21,547.15 L50.23,547.44 L51.25,547.74 L52.26,548.06 L53.28,548.39 L54.30,548.72 L55.31,549.03 L56.33,549.34 L57.35,549.63 L58.37,549.91 L59.39,550.21 L60.40,550.50 L61.42,550.80 L62.44,551.09 L63.45,551.36 L64.47,551.62 L65.49,551.84 L66.51,552.03 L67.53,552.18 L68.54,552.31 L69.56,552.44 L70.58,552.56 L71.59,552.67 L72.61,552.77 L73.63,552.86 L74.65,552.93 L75.67,552.99 L76.68,553.02 L77.70,553.04 L78.72,552.95 L79.73,552.72 L80.75,552.34 L81.77,551.85 L82.79,551.24 L83.81,550.54 L84.82,549.75 L85.84,548.90 L86.86,548.01 L87.88,547.07 L88.89,545.76 L89.91,543.92 L90.93,541.84 L91.95,539.81 L92.96,538.13 L93.98,536.72 L95.00,535.37 L96.02,534.15 L97.03,533.10 L98.05,532.30 L99.07,531.65 L100.09,531.03 L101.10,530.52 L102.12,530.16 L103.14,530.03 L104.16,530.17 L105.17,530.54 L106.19,531.07 L107.21,531.68 L108.22,532.30 L109.24,533.01 L110.26,533.88 L111.28,534.85 L112.30,535.86 L113.31,536.85 L114.33,537.87 L115.35,538.98 L116.37,540.08 L117.38,541.10 L118.40,541.96 L119.42,542.70 L120.44,543.40 L121.45,544.07 L122.47,544.71 L123.49,545.30 L124.50,545.86 L125.52,546.37 L126.54,546.84 L127.56,547.26 L128.57,547.64 L129.59,547.98 L130.61,548.29 L131.63,548.58 L132.65,548.85 L133.66,549.10 L134.68,549.34 L135.70,549.57 L136.72,549.78 L137.73,549.99 L138.75,550.20 L139.77,550.40 L140.79,550.60 L141.80,550.80 L142.82,550.99 L143.84,551.18 L144.86,551.37 L145.87,551.55 L146.89,551.73 L147.91,551.91 L148.93,552.08 L149.94,552.24 L150.96,552.40 L151.98,552.55 L153.00,552.70 L154.01,552.85 L155.03,552.98 L156.05,553.11 L157.06,553.24 L158.08,553.35 L159.10,553.46 L160.12,553.57 L161.14,553.67 L162.15,553.78 L163.17,553.88 L164.19,553.98 L165.21,554.08 L166.22,554.18 L167.24,554.27 L168.26,554.36 L169.28,554.45 L170.29,554.53 L171.31,554.61 L172.33,554.68 L173.34,554.75 L174.36,554.81 L175.38,554.87 L176.40,554.92 L177.42,554.96 L178.43,555.00 L179.45,555.02 L180.47,555.05 L181.49,555.07 L182.50,555.09 L183.52,555.12 L184.54,555.14 L185.56,555.16 L186.57,555.18 L187.59,555.19 L188.61,555.21 L189.62,555.23 L190.64,555.24 L191.66,555.25 L192.68,555.27 L193.69,555.28 L194.71,555.29 L195.73,555.29 L196.75,555.30 L197.77,555.30 L198.78,555.31 L199.80,555.31 L200.82,555.29 L201.83,555.25 L202.85,555.17 L203.87,555.07 L204.89,554.94 L205.91,554.80 L206.92,554.63 L207.94,554.45 L208.96,554.25 L209.97,554.03 L210.99,553.81 L212.01,553.57 L213.03,553.33 L214.05,553.08 L215.06,552.83 L216.08,552.58 L217.10,552.33 L218.12,552.09 L219.13,551.85 L220.15,551.62 L221.17,551.38 L222.19,551.12 L223.20,550.84 L224.22,550.54 L225.24,550.23 L226.26,549.92 L227.27,549.59 L228.29,549.25 L229.31,548.92 L230.32,548.58 L231.34,548.24 L232.36,547.90 L233.38,547.58 L234.40,547.26 L235.41,546.95 L236.43,546.65 L237.45,546.37 L238.47,546.11 L239.48,545.87 L240.50,545.65 L241.52,545.45 L242.54,545.24 L243.55,545.03 L244.57,544.81 L245.59,544.61 L246.61,544.40 L247.62,544.20 L248.64,544.00 L249.66,543.81 L250.68,543.62 L251.69,543.45 L252.71,543.29 L253.73,543.14 L254.75,543.00 L255.76,542.88 L256.78,542.77 L257.80,542.68 L258.81,542.61 L259.83,542.56 L260.85,542.53 L261.87,542.51 L262.89,542.49 L263.90,542.47 L264.92,542.46 L265.94,542.44 L266.96,542.43 L267.97,542.41 L268.99,542.40 L270.01,542.38 L271.02,542.37 L272.04,542.36 L273.06,542.35 L274.08,542.34 L275.10,542.32 L276.11,542.31 L277.13,542.31 L278.15,542.30 L279.17,542.29 L280.18,542.28 L281.20,542.28 L282.22,542.27 L283.24,542.26 L284.25,542.26 L285.27,542.26 L286.29,542.25 L287.31,542.25 L288.32,542.25 L289.34,542.25 L290.36,542.24 L291.38,542.24" fill="none" stroke="#0a9020" stroke-width="1.1"/>
<g fill="#0a9020"><circle cx="37.00" cy="544.94" r="2.2"/><circle cx="42.09" cy="545.66" r="2.2"/><circle cx="47.17" cy="546.65" r="2.2"/><circle cx="52.26" cy="548.06" r="2.2"/><circle cx="57.35" cy="549.63" r="2.2"/><circle cx="62.44" cy="551.09" r="2.2"/><circle cx="67.53" cy="552.18" r="2.2"/><circle cx="72.61" cy="552.77" r="2.2"/><circle cx="77.70" cy="553.04" r="2.2"/><circle cx="82.79" cy="551.24" r="2.2"/><circle cx="87.88" cy="547.07" r="2.2"/><circle cx="92.96" cy="538.13" r="2.2"/><circle cx="98.05" cy="532.30" r="2.2"/><circle cx="103.14" cy="530.03" r="2.2"/><circle cx="108.22" cy="532.30" r="2.2"/><circle cx="113.31" cy="536.85" r="2.2"/><circle cx="118.40" cy="541.96" r="2.2"/><circle cx="123.49" cy="545.30" r="2.2"/><circle cx="128.57" cy="547.64" r="2.2"/><circle cx="133.66" cy="549.10" r="2.2"/><circle cx="138.75" cy="550.20" r="2.2"/><circle cx="143.84" cy="551.18" r="2.2"/><circle cx="148.93" cy="552.08" r="2.2"/><circle cx="154.01" cy="552.85" r="2.2"/><circle cx="159.10" cy="553.46" r="2.2"/><circle cx="164.19" cy="553.98" r="2.2"/><circle cx="169.28" cy="554.45" r="2.2"/><circle cx="174.36" cy="554.81" r="2.2"/><circle cx="179.45" cy="555.02" r="2.2"/><circle cx="184.54" cy="555.14" r="2.2"/><circle cx="189.62" cy="555.23" r="2.2"/><circle cx="194.71" cy="555.29" r="2.2"/><circle cx="199.80" cy="555.31" r="2.2"/><circle cx="204.89" cy="554.94" r="2.2"/><circle cx="209.97" cy="554.03" r="2.2"/><circle cx="215.06" cy="552.83" r="2.2"/><circle cx="220.15" cy="551.62" r="2.2"/><circle cx="225.24" cy="550.23" r="2.2"/><circle cx="230.32" cy="548.58" r="2.2"/><circle cx="235.41" cy="546.95" r="2.2"/><circle cx="240.50" cy="545.65" r="2.2"/><circle cx="245.59" cy="544.61" r="2.2"/><circle cx="250.68" cy="543.62" r="2.2"/><circle cx="255.76" cy="542.88" r="2.2"/><circle cx="260.85" cy="542.53" r="2.2"/><circle cx="265.94" cy="542.44" r="2.2"/><circle cx="271.02" cy="542.37" r="2.2"/><circle cx="276.11" cy="542.31" r="2.2"/><circle cx="281.20" cy="542.28" r="2.2"/><circle cx="286.29" cy="542.25" r="2.2"/><circle cx="291.38" cy="542.24" r="2.2"/></g>
<path d="M37.00,568.80 L38.02,568.80 L39.03,568.80 L40.05,568.80 L41.07,568.80 L42.09,568.80 L43.11,568.74 L44.12,568.60 L45.14,568.43 L46.16,568.29 L47.17,568.23 L48.19,568.23 L49.21,568.23 L50.23,568.23 L51.25,568.23 L52.26,568.23 L53.28,567.96 L54.30,567.33 L55.31,566.57 L56.33,565.94 L57.35,565.67 L58.37,565.97 L59.39,566.68 L60.40,567.56 L61.42,568.35 L62.44,568.80 L63.45,568.98 L64.47,569.14 L65.49,569.26 L66.51,569.34 L67.53,569.37 L68.54,569.30 L69.56,569.12 L70.58,568.86 L71.59,568.55 L72.61,568.23 L73.63,567.85 L74.65,567.38 L75.67,566.84 L76.68,566.26 L77.70,565.67 L78.72,565.09 L79.73,564.47 L80.75,563.81 L81.77,563.13 L82.79,562.41 L83.81,561.63 L84.82,560.80 L85.84,559.94 L86.86,559.04 L87.88,558.15 L88.89,557.23 L89.91,556.28 L90.93,555.33 L91.95,554.38 L92.96,553.46 L93.98,552.52 L95.00,551.54 L96.02,550.60 L97.03,549.79 L98.05,549.20 L99.07,548.75 L100.09,548.32 L101.10,547.97 L102.12,547.73 L103.14,547.64 L104.16,547.72 L105.17,547.94 L106.19,548.24 L107.21,548.59 L108.22,548.92 L109.24,549.24 L110.26,549.60 L111.28,549.99 L112.30,550.43 L113.31,550.91 L114.33,551.49 L115.35,552.19 L116.37,552.94 L117.38,553.67 L118.40,554.31 L119.42,554.88 L120.44,555.44 L121.45,555.98 L122.47,556.50 L123.49,557.00 L124.50,557.48 L125.52,557.94 L126.54,558.37 L127.56,558.77 L128.57,559.14 L129.59,559.50 L130.61,559.84 L131.63,560.17 L132.65,560.49 L133.66,560.80 L134.68,561.08 L135.70,561.34 L136.72,561.58 L137.73,561.80 L138.75,561.98 L139.77,562.15 L140.79,562.31 L141.80,562.46 L142.82,562.61 L143.84,562.75 L144.86,562.88 L145.87,563.01 L146.89,563.13 L147.91,563.24 L148.93,563.35 L149.94,563.46 L150.96,563.56 L151.98,563.66 L153.00,563.76 L154.01,563.85 L155.03,563.93 L156.05,564.02 L157.06,564.10 L158.08,564.18 L159.10,564.25 L160.12,564.33 L161.14,564.41 L162.15,564.49 L163.17,564.57 L164.19,564.64 L165.21,564.72 L166.22,564.80 L167.24,564.87 L168.26,564.94 L169.28,565.01 L170.29,565.08 L171.31,565.14 L172.33,565.19 L173.34,565.24 L174.36,565.28 L175.38,565.32 L176.40,565.35 L177.42,565.37 L178.43,565.39 L179.45,565.39 L180.47,565.39 L181.49,565.39 L182.50,565.39 L183.52,565.38 L184.54,565.38 L185.56,565.38 L186.57,565.37 L187.59,565.37 L188.61,565.36 L189.62,565.35 L190.64,565.35 L191.66,565.34 L192.68,565.33 L193.69,565.32 L194.71,565.31 L195.73,565.30 L196.75,565.29 L197.77,565.27 L198.78,565.26 L199.80,565.25 L200.82,565.22 L201.83,565.17 L202.85,565.10 L203.87,565.01 L204.89,564.90 L205.91,564.77 L206.92,564.63 L207.94,564.48 L208.96,564.32 L209.97,564.15 L210.99,563.97 L212.01,563.79 L213.03,563.61 L214.05,563.42 L215.06,563.24 L216.08,563.06 L217.10,562.88 L218.12,562.72 L219.13,562.56 L220.15,562.41 L221.17,562.26 L222.19,562.12 L223.20,561.97 L224.22,561.82 L225.24,561.66 L226.26,561.51 L227.27,561.36 L228.29,561.20 L229.31,561.05 L230.32,560.90 L231.34,560.75 L232.36,560.60 L233.38,560.46 L234.40,560.32 L235.41,560.18 L236.43,560.05 L237.45,559.92 L238.47,559.79 L239.48,559.68 L240.50,559.57 L241.52,559.46 L242.54,559.35 L243.55,559.24 L244.57,559.12 L245.59,559.01 L246.61,558.90 L247.62,558.79 L248.64,558.68 L249.66,558.57 L250.68,558.47 L251.69,558.38 L252.71,558.29 L253.73,558.20 L254.75,558.13 L255.76,558.06 L256.78,558.00 L257.80,557.95 L258.81,557.91 L259.83,557.88 L260.85,557.86 L261.87,557.85 L262.89,557.85 L263.90,557.84 L264.92,557.83 L265.94,557.82 L266.96,557.81 L267.97,557.81 L268.99,557.80 L270.01,557.79 L271.02,557.78 L272.04,557.78 L273.06,557.77 L274.08,557.77 L275.10,557.76 L276.11,557.76 L277.13,557.75 L278.15,557.75 L279.17,557.74 L280.18,557.74 L281.20,557.74 L282.22,557.73 L283.24,557.73 L284.25,557.73 L285.27,557.73 L286.29,557.73 L287.31,557.72 L288.32,557.72 L289.34,557.72 L290.36,557.72 L291.38,557.72" fill="none" stroke="#a010c8" stroke-width="1.1"/>
<g fill="#a010c8"><circle cx="37.00" cy="568.80" r="2.2"/><circle cx="42.09" cy="568.80" r="2.2"/><circle cx="47.17" cy="568.23" r="2.2"/><circle cx="52.26" cy="568.23" r="2.2"/><circle cx="57.35" cy="565.67" r="2.2"/><circle cx="62.44" cy="568.80" r="2.2"/><circle cx="67.53" cy="569.37" r="2.2"/><circle cx="72.61" cy="568.23" r="2.2"/><circle cx="77.70" cy="565.67" r="2.2"/><circle cx="82.79" cy="562.41" r="2.2"/><circle cx="87.88" cy="558.15" r="2.2"/><circle cx="92.96" cy="553.46" r="2.2"/><circle cx="98.05" cy="549.20" r="2.2"/><circle cx="103.14" cy="547.64" r="2.2"/><circle cx="108.22" cy="548.92" r="2.2"/><circle cx="113.31" cy="550.91" r="2.2"/><circle cx="118.40" cy="554.31" r="2.2"/><circle cx="123.49" cy="557.00" r="2.2"/><circle cx="128.57" cy="559.14" r="2.2"/><circle cx="133.66" cy="560.80" r="2.2"/><circle cx="138.75" cy="561.98" r="2.2"/><circle cx="143.84" cy="562.75" r="2.2"/><circle cx="148.93" cy="563.35" r="2.2"/><circle cx="154.01" cy="563.85" r="2.2"/><circle cx="159.10" cy="564.25" r="2.2"/><circle cx="164.19" cy="564.64" r="2.2"/><circle cx="169.28" cy="565.01" r="2.2"/><circle cx="174.36" cy="565.28" r="2.2"/><circle cx="179.45" cy="565.39" r="2.2"/><circle cx="184.54" cy="565.38" r="2.2"/><circle cx="189.62" cy="565.35" r="2.2"/><circle cx="194.71" cy="565.31" r="2.2"/><circle cx="199.80" cy="565.25" r="2.2"/><circle cx="204.89" cy="564.90" r="2.2"/><circle cx="209.97" cy="564.15" r="2.2"/><circle cx="215.06" cy="563.24" r="2.2"/><circle cx="220.15" cy="562.41" r="2.2"/><circle cx="225.24" cy="561.66" r="2.2"/><circle cx="230.32" cy="560.90" r="2.2"/><circle cx="235.41" cy="560.18" r="2.2"/><circle cx="240.50" cy="559.57" r="2.2"/><circle cx="245.59" cy="559.01" r="2.2"/><circle cx="250.68" cy="558.47" r="2.2"/><circle cx="255.76" cy="558.06" r="2.2"/><circle cx="260.85" cy="557.86" r="2.2"/><circle cx="265.94" cy="557.82" r="2.2"/><circle cx="271.02" cy="557.78" r="2.2"/><circle cx="276.11" cy="557.76" r="2.2"/><circle cx="281.20" cy="557.74" r="2.2"/><circle cx="286.29" cy="557.73" r="2.2"/><circle cx="291.38" cy="557.72" r="2.2"/></g>
<rect x="37.0" y="324.6" width="254.60000000000002" height="255.69999999999993" fill="none" stroke="#111" stroke-width="1.2"/>
<line x1="37.0" y1="580.30" x2="40.5" y2="580.30" stroke="#111" stroke-width="1"/>
 <text x="31.4" y="584.40" text-anchor="end" font-family="Liberation Serif, serif" font-size="12" fill="#111">0</text>
<line x1="37.0" y1="509.30" x2="40.5" y2="509.30" stroke="#111" stroke-width="1"/>
 <text x="31.4" y="513.40" text-anchor="end" font-family="Liberation Serif, serif" font-size="12" fill="#111">50</text>
<line x1="37.0" y1="438.30" x2="40.5" y2="438.30" stroke="#111" stroke-width="1"/>
 <text x="31.4" y="442.40" text-anchor="end" font-family="Liberation Serif, serif" font-size="12" fill="#111">100</text>
<line x1="37.0" y1="367.30" x2="40.5" y2="367.30" stroke="#111" stroke-width="1"/>
 <text x="31.4" y="371.40" text-anchor="end" font-family="Liberation Serif, serif" font-size="12" fill="#111">150</text>
<line x1="37.00" y1="580.3" x2="37.00" y2="576.8" stroke="#111" stroke-width="1"/>
<text x="36.50" y="592.9" text-anchor="middle" font-family="Liberation Serif, serif" font-size="12" fill="#111">0</text>
<line x1="138.75" y1="580.3" x2="138.75" y2="576.8" stroke="#111" stroke-width="1"/>
<text x="138.25" y="592.9" text-anchor="middle" font-family="Liberation Serif, serif" font-size="12" fill="#111">10</text>
<line x1="240.50" y1="580.3" x2="240.50" y2="576.8" stroke="#111" stroke-width="1"/>
<text x="240.00" y="592.9" text-anchor="middle" font-family="Liberation Serif, serif" font-size="12" fill="#111">20</text>
<line x1="291.6" y1="383.1" x2="288.1" y2="383.1" stroke="#111" stroke-width="1"/>
<line x1="291.6" y1="474" x2="288.1" y2="474" stroke="#111" stroke-width="1"/>
<line x1="291.6" y1="564.8" x2="288.1" y2="564.8" stroke="#111" stroke-width="1"/>
<text x="294.6" y="432" font-family="Liberation Serif, serif" font-size="12" fill="#111">60</text>
<text x="294.6" y="523.7" font-family="Liberation Serif, serif" font-size="12" fill="#111">30</text>
<text x="172.8" y="607.6" text-anchor="middle" font-family="Liberation Serif, serif" font-size="12.8" fill="#111">Time (min)</text>
<text transform=" translate(11.8,453.2) rotate(-90)" text-anchor="middle" font-family="Liberation Serif, serif" font-size="12.9" fill="#111">Viscosity (BU)</text>
<text transform=" translate(313.6,441.5) rotate(-90)" text-anchor="middle" font-family="Liberation Serif, serif" font-size="12.7" fill="#111">Temperature (°C)</text>
<line x1="211.3" y1="331.0" x2="231" y2="331.0" stroke="#e8b030" stroke-width="1.2"/>
<circle cx="221.2" cy="331.0" r="1.9" fill="#e8b030"/>
<text x="234.5" y="333.6" font-family="Liberation Serif, serif" font-size="8.6" fill="#222">PS<tspan dy="1.9" font-size="6.2">control</tspan></text>
<line x1="211.3" y1="344.3" x2="231" y2="344.3" stroke="#111111" stroke-width="1.2"/>
<circle cx="221.2" cy="344.3" r="1.9" fill="#111111"/>
<text x="234.5" y="346.90000000000003" font-family="Liberation Serif, serif" font-size="8.6" fill="#222">PS-SPAA<tspan dy="1.9" font-size="6.2">25</tspan></text>
<line x1="211.3" y1="357.6" x2="231" y2="357.6" stroke="#f01010" stroke-width="1.2"/>
<circle cx="221.2" cy="357.6" r="1.9" fill="#f01010"/>
<text x="234.5" y="360.20000000000005" font-family="Liberation Serif, serif" font-size="8.6" fill="#222">PS-SPAA<tspan dy="1.9" font-size="6.2">70</tspan></text>
<line x1="211.3" y1="370.9" x2="231" y2="370.9" stroke="#1010d0" stroke-width="1.2"/>
<circle cx="221.2" cy="370.9" r="1.9" fill="#1010d0"/>
<text x="234.5" y="373.5" font-family="Liberation Serif, serif" font-size="8.6" fill="#222">PS-SPAA<tspan dy="1.9" font-size="6.2">90</tspan></text>
<line x1="211.3" y1="384.2" x2="231" y2="384.2" stroke="#0a9020" stroke-width="1.2"/>
<circle cx="221.2" cy="384.2" r="1.9" fill="#0a9020"/>
<text x="234.5" y="386.8" font-family="Liberation Serif, serif" font-size="8.6" fill="#222">PS-SPAA<tspan dy="1.9" font-size="6.2">110</tspan></text>
<line x1="211.3" y1="397.5" x2="231" y2="397.5" stroke="#a010c8" stroke-width="1.2"/>
<circle cx="221.2" cy="397.5" r="1.9" fill="#a010c8"/>
<text x="234.5" y="400.1" font-family="Liberation Serif, serif" font-size="8.6" fill="#222">PS-SPAA<tspan dy="1.9" font-size="6.2">130</tspan></text>
</g>
<g id="panelD">
<rect x="354.30" y="360.92" width="8.3" height="212.68" fill="#7299ab" stroke="#333" stroke-width="0.45"/>
<rect x="362.60" y="570.65" width="8.3" height="2.95" fill="#4b7488" stroke="#333" stroke-width="0.45"/>
<rect x="370.90" y="562.08" width="8.3" height="11.52" fill="#e1be81" stroke="#333" stroke-width="0.45"/>
<rect x="379.20" y="393.38" width="8.3" height="180.22" fill="#dfbdc5" stroke="#333" stroke-width="0.45"/>
<rect x="387.50" y="526.12" width="8.3" height="47.48" fill="#c6d3cd" stroke="#333" stroke-width="0.45"/>
<path d="M358.45,357.96 L358.45,363.87 M355.45,357.96 L361.45,357.96 M355.45,363.87 L361.45,363.87" stroke="#111" stroke-width="0.85" fill="none"/>
<path d="M366.75,568.83 L366.75,572.46 M363.75,568.83 L369.75,568.83 M363.75,572.46 L369.75,572.46" stroke="#111" stroke-width="0.85" fill="none"/>
<path d="M375.05,561.40 L375.05,562.76 M372.05,561.40 L378.05,561.40 M372.05,562.76 L378.05,562.76" stroke="#111" stroke-width="0.85" fill="none"/>
<path d="M383.35,392.25 L383.35,394.52 M380.35,392.25 L386.35,392.25 M380.35,394.52 L386.35,394.52" stroke="#111" stroke-width="0.85" fill="none"/>
<path d="M391.65,525.77 L391.65,526.46 M388.65,525.77 L394.65,525.77 M388.65,526.46 L394.65,526.46" stroke="#111" stroke-width="0.85" fill="none"/>
<text transform="translate(378.20,582.30) rotate(-45)" text-anchor="end" font-family="Liberation Serif, serif" font-size="11.8" letter-spacing="0" fill="#222">PS</text>
<rect x="406.15" y="409.99" width="8.3" height="163.61" fill="#7299ab" stroke="#333" stroke-width="0.45"/>
<rect x="414.45" y="564.40" width="8.3" height="9.20" fill="#4b7488" stroke="#333" stroke-width="0.45"/>
<rect x="422.75" y="519.25" width="8.3" height="54.35" fill="#e1be81" stroke="#333" stroke-width="0.45"/>
<rect x="431.05" y="426.08" width="8.3" height="147.52" fill="#dfbdc5" stroke="#333" stroke-width="0.45"/>
<rect x="439.35" y="520.89" width="8.3" height="52.71" fill="#c6d3cd" stroke="#333" stroke-width="0.45"/>
<path d="M410.30,408.40 L410.30,411.58 M407.30,408.40 L413.30,408.40 M407.30,411.58 L413.30,411.58" stroke="#111" stroke-width="0.85" fill="none"/>
<path d="M418.60,560.99 L418.60,567.81 M415.60,560.99 L421.60,560.99 M415.60,567.81 L421.60,567.81" stroke="#111" stroke-width="0.85" fill="none"/>
<path d="M426.90,518.12 L426.90,520.39 M423.90,518.12 L429.90,518.12 M423.90,520.39 L429.90,520.39" stroke="#111" stroke-width="0.85" fill="none"/>
<line x1="432.20" y1="426.08" x2="438.20" y2="426.08" stroke="#111" stroke-width="1"/>
<path d="M443.50,519.98 L443.50,521.80 M440.50,519.98 L446.50,519.98 M440.50,521.80 L446.50,521.80" stroke="#111" stroke-width="0.85" fill="none"/>
<text transform="translate(436.40,581.80) rotate(-45)" text-anchor="end" font-family="Liberation Serif, serif" font-size="11.6" letter-spacing="-0.35" fill="#222">PS-SPAA<tspan dy="2" font-size="9.5">25</tspan></text>
<rect x="458.00" y="407.61" width="8.3" height="165.99" fill="#7299ab" stroke="#333" stroke-width="0.45"/>
<rect x="466.30" y="569.83" width="8.3" height="3.77" fill="#4b7488" stroke="#333" stroke-width="0.45"/>
<rect x="474.60" y="516.19" width="8.3" height="57.41" fill="#e1be81" stroke="#333" stroke-width="0.45"/>
<rect x="482.90" y="423.17" width="8.3" height="150.43" fill="#dfbdc5" stroke="#333" stroke-width="0.45"/>
<rect x="491.20" y="524.52" width="8.3" height="49.08" fill="#c6d3cd" stroke="#333" stroke-width="0.45"/>
<path d="M462.15,407.15 L462.15,408.06 M459.15,407.15 L465.15,407.15 M459.15,408.06 L465.15,408.06" stroke="#111" stroke-width="0.85" fill="none"/>
<path d="M470.45,568.92 L470.45,570.74 M467.45,568.92 L473.45,568.92 M467.45,570.74 L473.45,570.74" stroke="#111" stroke-width="0.85" fill="none"/>
<path d="M478.75,514.60 L478.75,517.78 M475.75,514.60 L481.75,514.60 M475.75,517.78 L481.75,517.78" stroke="#111" stroke-width="0.85" fill="none"/>
<path d="M487.05,419.08 L487.05,427.26 M484.05,419.08 L490.05,419.08 M484.05,427.26 L490.05,427.26" stroke="#111" stroke-width="0.85" fill="none"/>
<path d="M495.35,523.84 L495.35,525.21 M492.35,523.84 L498.35,523.84 M492.35,525.21 L498.35,525.21" stroke="#111" stroke-width="0.85" fill="none"/>
<text transform="translate(487.40,581.80) rotate(-45)" text-anchor="end" font-family="Liberation Serif, serif" font-size="11.6" letter-spacing="-0.35" fill="#222">PS-SPAA<tspan dy="2" font-size="9.5">70</tspan></text>
<rect x="509.85" y="402.54" width="8.3" height="171.06" fill="#7299ab" stroke="#333" stroke-width="0.45"/>
<rect x="518.15" y="563.17" width="8.3" height="10.43" fill="#4b7488" stroke="#333" stroke-width="0.45"/>
<rect x="526.45" y="527.91" width="8.3" height="45.69" fill="#e1be81" stroke="#333" stroke-width="0.45"/>
<rect x="534.75" y="407.79" width="8.3" height="165.81" fill="#dfbdc5" stroke="#333" stroke-width="0.45"/>
<rect x="543.05" y="531.34" width="8.3" height="42.26" fill="#c6d3cd" stroke="#333" stroke-width="0.45"/>
<path d="M514.00,401.97 L514.00,403.11 M511.00,401.97 L517.00,401.97 M511.00,403.11 L517.00,403.11" stroke="#111" stroke-width="0.85" fill="none"/>
<line x1="519.30" y1="563.17" x2="525.30" y2="563.17" stroke="#111" stroke-width="1"/>
<path d="M530.60,527.00 L530.60,528.82 M527.60,527.00 L533.60,527.00 M527.60,528.82 L533.60,528.82" stroke="#111" stroke-width="0.85" fill="none"/>
<line x1="535.90" y1="407.79" x2="541.90" y2="407.79" stroke="#111" stroke-width="1"/>
<path d="M547.20,531.00 L547.20,531.68 M544.20,531.00 L550.20,531.00 M544.20,531.68 L550.20,531.68" stroke="#111" stroke-width="0.85" fill="none"/>
<text transform="translate(538.20,581.90) rotate(-45)" text-anchor="end" font-family="Liberation Serif, serif" font-size="11.6" letter-spacing="-0.35" fill="#222">PS-SPAA<tspan dy="2" font-size="9.5">90</tspan></text>
<rect x="561.70" y="407.45" width="8.3" height="166.15" fill="#7299ab" stroke="#333" stroke-width="0.45"/>
<rect x="570.00" y="568.47" width="8.3" height="5.13" fill="#4b7488" stroke="#333" stroke-width="0.45"/>
<rect x="578.30" y="517.71" width="8.3" height="55.89" fill="#e1be81" stroke="#333" stroke-width="0.45"/>
<rect x="586.60" y="426.01" width="8.3" height="147.59" fill="#dfbdc5" stroke="#333" stroke-width="0.45"/>
<rect x="594.90" y="523.39" width="8.3" height="50.21" fill="#c6d3cd" stroke="#333" stroke-width="0.45"/>
<path d="M565.85,402.90 L565.85,411.99 M562.85,402.90 L568.85,402.90 M562.85,411.99 L568.85,411.99" stroke="#111" stroke-width="0.85" fill="none"/>
<path d="M574.15,564.38 L574.15,572.55 M571.15,564.38 L577.15,564.38 M571.15,572.55 L577.15,572.55" stroke="#111" stroke-width="0.85" fill="none"/>
<line x1="579.45" y1="517.71" x2="585.45" y2="517.71" stroke="#111" stroke-width="1"/>
<line x1="587.75" y1="426.01" x2="593.75" y2="426.01" stroke="#111" stroke-width="1"/>
<path d="M599.05,522.71 L599.05,524.07 M596.05,522.71 L602.05,522.71 M596.05,524.07 L602.05,524.07" stroke="#111" stroke-width="0.85" fill="none"/>
<text transform="translate(589.60,581.70) rotate(-45)" text-anchor="end" font-family="Liberation Serif, serif" font-size="11.6" letter-spacing="-0.35" fill="#222">PS-SPAA<tspan dy="2" font-size="9.5">110</tspan></text>
<rect x="613.55" y="418.29" width="8.3" height="155.31" fill="#7299ab" stroke="#333" stroke-width="0.45"/>
<rect x="621.85" y="566.81" width="8.3" height="6.79" fill="#4b7488" stroke="#333" stroke-width="0.45"/>
<rect x="630.15" y="508.55" width="8.3" height="65.05" fill="#e1be81" stroke="#333" stroke-width="0.45"/>
<rect x="638.45" y="424.97" width="8.3" height="148.63" fill="#dfbdc5" stroke="#333" stroke-width="0.45"/>
<rect x="646.75" y="534.52" width="8.3" height="39.08" fill="#c6d3cd" stroke="#333" stroke-width="0.45"/>
<path d="M617.70,416.92 L617.70,419.65 M614.70,416.92 L620.70,416.92 M614.70,419.65 L620.70,419.65" stroke="#111" stroke-width="0.85" fill="none"/>
<path d="M626.00,566.13 L626.00,567.49 M623.00,566.13 L629.00,566.13 M623.00,567.49 L629.00,567.49" stroke="#111" stroke-width="0.85" fill="none"/>
<line x1="631.30" y1="508.55" x2="637.30" y2="508.55" stroke="#111" stroke-width="1"/>
<path d="M642.60,424.62 L642.60,425.31 M639.60,424.62 L645.60,424.62 M639.60,425.31 L645.60,425.31" stroke="#111" stroke-width="0.85" fill="none"/>
<path d="M650.90,532.70 L650.90,536.34 M647.90,532.70 L653.90,532.70 M647.90,536.34 L653.90,536.34" stroke="#111" stroke-width="0.85" fill="none"/>
<text transform="translate(645.40,581.70) rotate(-45)" text-anchor="end" font-family="Liberation Serif, serif" font-size="11.6" letter-spacing="-0.35" fill="#222">PS-SPAA<tspan dy="2" font-size="9.5">130</tspan></text>
<text x="358.45" y="355.36" text-anchor="middle" font-family="Liberation Serif, serif" font-size="8" fill="#111">93.61</text>
<text x="366.75" y="566.23" text-anchor="middle" font-family="Liberation Serif, serif" font-size="8" fill="#111">1.3</text>
<text x="375.05" y="558.80" text-anchor="middle" font-family="Liberation Serif, serif" font-size="8" fill="#111">5.07</text>
<text x="383.35" y="389.65" text-anchor="middle" font-family="Liberation Serif, serif" font-size="8" fill="#111">79.32</text>
<text x="391.65" y="523.17" text-anchor="middle" font-family="Liberation Serif, serif" font-size="8" fill="#111">20.9</text>
<text x="410.30" y="405.80" text-anchor="middle" font-family="Liberation Serif, serif" font-size="8" fill="#111">72.01</text>
<text x="418.60" y="558.39" text-anchor="middle" font-family="Liberation Serif, serif" font-size="8" fill="#111">4.05</text>
<text x="426.90" y="515.52" text-anchor="middle" font-family="Liberation Serif, serif" font-size="8" fill="#111">23.92</text>
<text x="435.20" y="423.18" text-anchor="middle" font-family="Liberation Serif, serif" font-size="8" fill="#111">64.93</text>
<text x="443.50" y="517.38" text-anchor="middle" font-family="Liberation Serif, serif" font-size="8" fill="#111">23.2</text>
<text x="462.15" y="404.55" text-anchor="middle" font-family="Liberation Serif, serif" font-size="8" fill="#111">73.06</text>
<text x="470.45" y="566.32" text-anchor="middle" font-family="Liberation Serif, serif" font-size="8" fill="#111">1.66</text>
<text x="478.75" y="512.00" text-anchor="middle" font-family="Liberation Serif, serif" font-size="8" fill="#111">25.27</text>
<text x="487.05" y="416.48" text-anchor="middle" font-family="Liberation Serif, serif" font-size="8" fill="#111">66.21</text>
<text x="495.35" y="521.24" text-anchor="middle" font-family="Liberation Serif, serif" font-size="8" fill="#111">21.6</text>
<text x="514.00" y="399.37" text-anchor="middle" font-family="Liberation Serif, serif" font-size="8" fill="#111">75.29</text>
<text x="522.30" y="560.27" text-anchor="middle" font-family="Liberation Serif, serif" font-size="8" fill="#111">4.59</text>
<text x="530.60" y="524.40" text-anchor="middle" font-family="Liberation Serif, serif" font-size="8" fill="#111">20.11</text>
<text x="538.90" y="404.89" text-anchor="middle" font-family="Liberation Serif, serif" font-size="8" fill="#111">72.98</text>
<text x="547.20" y="528.40" text-anchor="middle" font-family="Liberation Serif, serif" font-size="8" fill="#111">18.6</text>
<text x="565.85" y="400.30" text-anchor="middle" font-family="Liberation Serif, serif" font-size="8" fill="#111">73.13</text>
<text x="574.15" y="561.78" text-anchor="middle" font-family="Liberation Serif, serif" font-size="8" fill="#111">2.26</text>
<text x="582.45" y="514.81" text-anchor="middle" font-family="Liberation Serif, serif" font-size="8" fill="#111">24.6</text>
<text x="590.75" y="423.11" text-anchor="middle" font-family="Liberation Serif, serif" font-size="8" fill="#111">64.96</text>
<text x="599.05" y="520.11" text-anchor="middle" font-family="Liberation Serif, serif" font-size="8" fill="#111">22.1</text>
<text x="617.70" y="414.32" text-anchor="middle" font-family="Liberation Serif, serif" font-size="8" fill="#111">68.36</text>
<text x="626.00" y="563.53" text-anchor="middle" font-family="Liberation Serif, serif" font-size="8" fill="#111">2.99</text>
<text x="634.30" y="505.65" text-anchor="middle" font-family="Liberation Serif, serif" font-size="8" fill="#111">28.63</text>
<text x="642.60" y="422.02" text-anchor="middle" font-family="Liberation Serif, serif" font-size="8" fill="#111">65.42</text>
<text x="650.90" y="530.10" text-anchor="middle" font-family="Liberation Serif, serif" font-size="8" fill="#111">17.2</text>
<rect x="348.4" y="323.4" width="311.0" height="250.20000000000005" fill="none" stroke="#444" stroke-width="0.9"/>
<rect x="614.2" y="325.4" width="17" height="8.2" fill="#7299ab" stroke="#444" stroke-width="0.5"/>
<rect x="614.2" y="336.6" width="17" height="8.2" fill="#4b7488" stroke="#444" stroke-width="0.5"/>
<rect x="614.2" y="347.5" width="17" height="8.2" fill="#e1be81" stroke="#444" stroke-width="0.5"/>
<rect x="614.2" y="358.7" width="17" height="8.2" fill="#dfbdc5" stroke="#444" stroke-width="0.5"/>
<rect x="614.2" y="372.9" width="17" height="8.2" fill="#c6d3cd" stroke="#444" stroke-width="0.5"/>
<text x="635.3" y="332.7" font-family="Liberation Serif, serif" font-size="8.8" fill="#222">RDS</text>
<text x="635.3" y="343.8" font-family="Liberation Serif, serif" font-size="8.8" fill="#222">SDS</text>
<text x="635.3" y="354.7" font-family="Liberation Serif, serif" font-size="8.8" fill="#222">RS</text>
<text x="635.3" y="365.6" font-family="Liberation Serif, serif" font-size="8.8" fill="#222"><tspan font-style="italic">C</tspan><tspan dy="2" font-size="7">300</tspan></text>
<text x="635.3" y="380.4" font-family="Liberation Serif, serif" font-size="8.8" fill="#222"><tspan font-style="italic">k</tspan>*10<tspan dy="-3.4" font-size="7">-3</tspan></text>
</g>
</svg></body></html>
